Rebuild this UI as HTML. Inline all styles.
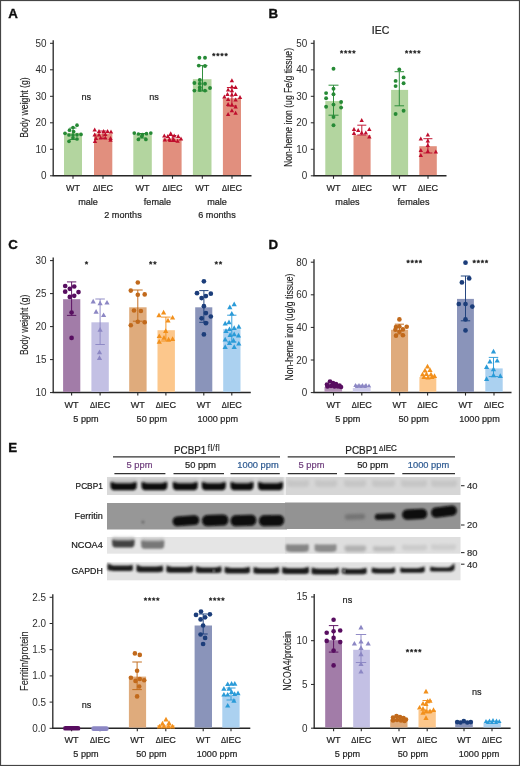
<!DOCTYPE html>
<html><head><meta charset="utf-8"><title>Figure</title>
<style>
html,body{margin:0;padding:0;background:#fff;}
body{width:520px;height:766px;overflow:hidden;}
svg{display:block;font-family:"Liberation Sans", sans-serif;}
</style></head><body>
<svg width="520" height="766" viewBox="0 0 520 766">
<defs>
<filter id="bl" x="-20%" y="-50%" width="140%" height="200%"><feGaussianBlur stdDeviation="0.9"/></filter>
<filter id="bl2" x="-20%" y="-50%" width="140%" height="200%"><feGaussianBlur stdDeviation="1.4"/></filter>
<filter id="bl3" x="-5%" y="-5%" width="110%" height="110%"><feGaussianBlur stdDeviation="0.35"/></filter>
</defs>
<rect x="0" y="0" width="520" height="766" fill="#fff"/>

<g filter="url(#bl3)">
<text x="8.3" y="17.8" font-size="13.3" text-anchor="start" fill="#111" font-weight="bold" stroke="#111" stroke-width="0.35">A</text>
<text x="268.5" y="17.8" font-size="13.3" text-anchor="start" fill="#111" font-weight="bold" stroke="#111" stroke-width="0.35">B</text>
<text x="8.3" y="248.8" font-size="13.3" text-anchor="start" fill="#111" font-weight="bold" stroke="#111" stroke-width="0.35">C</text>
<text x="268.5" y="248.8" font-size="13.3" text-anchor="start" fill="#111" font-weight="bold" stroke="#111" stroke-width="0.35">D</text>
<text x="8.3" y="452.2" font-size="13.3" text-anchor="start" fill="#111" font-weight="bold" stroke="#111" stroke-width="0.35">E</text>
</g>
<g filter="url(#bl3)">
<line x1="53.2" y1="40.30000000000001" x2="53.2" y2="175.8" stroke="#262626" stroke-width="1.3"/>
<line x1="52.6" y1="175.8" x2="251.5" y2="175.8" stroke="#262626" stroke-width="1.5"/>
<line x1="50.0" y1="43.30000000000001" x2="53.2" y2="43.30000000000001" stroke="#262626" stroke-width="1.0"/>
<text x="46.400000000000006" y="46.80000000000001" font-size="10.0" text-anchor="end" fill="#2e2e2e" font-weight="normal" textLength="11.01" lengthAdjust="spacingAndGlyphs" stroke-width="0">50</text>
<line x1="50.0" y1="69.80000000000001" x2="53.2" y2="69.80000000000001" stroke="#262626" stroke-width="1.0"/>
<text x="46.400000000000006" y="73.30000000000001" font-size="10.0" text-anchor="end" fill="#2e2e2e" font-weight="normal" textLength="11.01" lengthAdjust="spacingAndGlyphs" stroke-width="0">40</text>
<line x1="50.0" y1="96.30000000000001" x2="53.2" y2="96.30000000000001" stroke="#262626" stroke-width="1.0"/>
<text x="46.400000000000006" y="99.80000000000001" font-size="10.0" text-anchor="end" fill="#2e2e2e" font-weight="normal" textLength="11.01" lengthAdjust="spacingAndGlyphs" stroke-width="0">30</text>
<line x1="50.0" y1="122.80000000000001" x2="53.2" y2="122.80000000000001" stroke="#262626" stroke-width="1.0"/>
<text x="46.400000000000006" y="126.30000000000001" font-size="10.0" text-anchor="end" fill="#2e2e2e" font-weight="normal" textLength="11.01" lengthAdjust="spacingAndGlyphs" stroke-width="0">20</text>
<line x1="50.0" y1="149.3" x2="53.2" y2="149.3" stroke="#262626" stroke-width="1.0"/>
<text x="46.400000000000006" y="152.8" font-size="10.0" text-anchor="end" fill="#2e2e2e" font-weight="normal" textLength="11.01" lengthAdjust="spacingAndGlyphs" stroke-width="0">10</text>
<line x1="50.0" y1="175.8" x2="53.2" y2="175.8" stroke="#262626" stroke-width="1.0"/>
<text x="46.400000000000006" y="179.3" font-size="10.0" text-anchor="end" fill="#2e2e2e" font-weight="normal" textLength="5.51" lengthAdjust="spacingAndGlyphs" stroke-width="0">0</text>
<line x1="73" y1="175.8" x2="73" y2="178.8" stroke="#262626" stroke-width="1.1"/>
<line x1="103" y1="175.8" x2="103" y2="178.8" stroke="#262626" stroke-width="1.1"/>
<line x1="142.5" y1="175.8" x2="142.5" y2="178.8" stroke="#262626" stroke-width="1.1"/>
<line x1="172.5" y1="175.8" x2="172.5" y2="178.8" stroke="#262626" stroke-width="1.1"/>
<line x1="202.3" y1="175.8" x2="202.3" y2="178.8" stroke="#262626" stroke-width="1.1"/>
<line x1="232" y1="175.8" x2="232" y2="178.8" stroke="#262626" stroke-width="1.1"/>
<text transform="translate(24.4,107.5) rotate(-90)" x="0" y="0" dy="0.35em" font-size="10.6" text-anchor="middle" fill="#1f1f1f" stroke="#1f1f1f" stroke-width="0.12" textLength="60.5" lengthAdjust="spacingAndGlyphs">Body weight (g)</text>
<rect x="64" y="132.8" width="18" height="42.25" fill="#b3d59f"/>
<rect x="94" y="133.5" width="18.299999999999997" height="41.55000000000001" fill="#e18f7e"/>
<rect x="133.3" y="134.2" width="18.5" height="40.85000000000002" fill="#b3d59f"/>
<rect x="162.8" y="138.5" width="18.799999999999983" height="36.55000000000001" fill="#e18f7e"/>
<rect x="192.9" y="79.2" width="18.599999999999994" height="95.85000000000001" fill="#b3d59f"/>
<rect x="222.9" y="98.3" width="18.099999999999994" height="76.75000000000001" fill="#e18f7e"/>
<line x1="73" y1="128" x2="73" y2="139.5" stroke="#278a36" stroke-width="0.9"/>
<line x1="69.5" y1="128" x2="76.5" y2="128" stroke="#278a36" stroke-width="0.9"/>
<line x1="69.5" y1="139.5" x2="76.5" y2="139.5" stroke="#278a36" stroke-width="0.9"/>
<line x1="103" y1="131" x2="103" y2="138.5" stroke="#bf0f2d" stroke-width="0.9"/>
<line x1="99.5" y1="131" x2="106.5" y2="131" stroke="#bf0f2d" stroke-width="0.9"/>
<line x1="99.5" y1="138.5" x2="106.5" y2="138.5" stroke="#bf0f2d" stroke-width="0.9"/>
<line x1="142.5" y1="133.5" x2="142.5" y2="138" stroke="#278a36" stroke-width="1.0"/>
<line x1="138.5" y1="133.5" x2="146.5" y2="133.5" stroke="#278a36" stroke-width="1.0"/>
<line x1="138.5" y1="138" x2="146.5" y2="138" stroke="#278a36" stroke-width="1.0"/>
<line x1="172.3" y1="135.5" x2="172.3" y2="141.5" stroke="#bf0f2d" stroke-width="1.0"/>
<line x1="168.3" y1="135.5" x2="176.3" y2="135.5" stroke="#bf0f2d" stroke-width="1.0"/>
<line x1="168.3" y1="141.5" x2="176.3" y2="141.5" stroke="#bf0f2d" stroke-width="1.0"/>
<line x1="202.5" y1="65.6" x2="202.5" y2="91" stroke="#278a36" stroke-width="0.95"/>
<line x1="197.5" y1="65.6" x2="207.5" y2="65.6" stroke="#278a36" stroke-width="0.95"/>
<line x1="197.5" y1="91" x2="207.5" y2="91" stroke="#278a36" stroke-width="0.95"/>
<line x1="231.9" y1="87.5" x2="231.9" y2="106" stroke="#bf0f2d" stroke-width="0.95"/>
<line x1="226.9" y1="87.5" x2="236.9" y2="87.5" stroke="#bf0f2d" stroke-width="0.95"/>
<line x1="226.9" y1="106" x2="236.9" y2="106" stroke="#bf0f2d" stroke-width="0.95"/>
<circle cx="77.0" cy="125.2" r="1.85" fill="#278a36"/>
<circle cx="73.0" cy="127.5" r="1.85" fill="#278a36"/>
<circle cx="69.5" cy="130.2" r="1.85" fill="#278a36"/>
<circle cx="73.6" cy="131.5" r="1.85" fill="#278a36"/>
<circle cx="65.0" cy="133.3" r="1.85" fill="#278a36"/>
<circle cx="69.0" cy="135.0" r="1.85" fill="#278a36"/>
<circle cx="73.0" cy="135.0" r="1.85" fill="#278a36"/>
<circle cx="77.0" cy="134.8" r="1.85" fill="#278a36"/>
<circle cx="81.0" cy="134.4" r="1.85" fill="#278a36"/>
<circle cx="73.0" cy="137.9" r="1.85" fill="#278a36"/>
<circle cx="77.0" cy="139.0" r="1.85" fill="#278a36"/>
<circle cx="69.0" cy="141.3" r="1.85" fill="#278a36"/>
<path d="M94.7 127.4L96.9 131.4L92.5 131.4Z" fill="#bf0f2d"/>
<path d="M99.0 129.1L101.2 133.1L96.8 133.1Z" fill="#bf0f2d"/>
<path d="M103.6 129.1L105.8 133.1L101.4 133.1Z" fill="#bf0f2d"/>
<path d="M107.6 129.1L109.8 133.1L105.4 133.1Z" fill="#bf0f2d"/>
<path d="M111.0 129.6L113.2 133.6L108.8 133.6Z" fill="#bf0f2d"/>
<path d="M94.7 132.6L96.9 136.6L92.5 136.6Z" fill="#bf0f2d"/>
<path d="M99.0 132.6L101.2 136.6L96.8 136.6Z" fill="#bf0f2d"/>
<path d="M105.3 132.0L107.5 136.0L103.1 136.0Z" fill="#bf0f2d"/>
<path d="M100.7 135.5L102.9 139.5L98.5 139.5Z" fill="#bf0f2d"/>
<path d="M105.3 135.5L107.5 139.5L103.1 139.5Z" fill="#bf0f2d"/>
<path d="M96.0 136.1L98.2 140.1L93.8 140.1Z" fill="#bf0f2d"/>
<path d="M110.5 136.1L112.7 140.1L108.3 140.1Z" fill="#bf0f2d"/>
<path d="M95.0 138.9L97.2 142.9L92.8 142.9Z" fill="#bf0f2d"/>
<path d="M110.5 137.8L112.7 141.8L108.3 141.8Z" fill="#bf0f2d"/>
<circle cx="134.3" cy="133.1" r="1.85" fill="#278a36"/>
<circle cx="138.4" cy="134.0" r="1.85" fill="#278a36"/>
<circle cx="142.4" cy="134.5" r="1.85" fill="#278a36"/>
<circle cx="146.5" cy="133.7" r="1.85" fill="#278a36"/>
<circle cx="150.8" cy="133.1" r="1.85" fill="#278a36"/>
<circle cx="141.8" cy="136.3" r="1.85" fill="#278a36"/>
<circle cx="138.4" cy="139.4" r="1.85" fill="#278a36"/>
<circle cx="145.9" cy="139.4" r="1.85" fill="#278a36"/>
<path d="M164.3 133.6L166.5 137.6L162.1 137.6Z" fill="#bf0f2d"/>
<path d="M167.8 134.1L170.0 138.1L165.6 138.1Z" fill="#bf0f2d"/>
<path d="M170.7 131.3L172.9 135.3L168.5 135.3Z" fill="#bf0f2d"/>
<path d="M174.2 133.6L176.4 137.6L172.0 137.6Z" fill="#bf0f2d"/>
<path d="M178.2 134.1L180.4 138.1L176.0 138.1Z" fill="#bf0f2d"/>
<path d="M181.0 136.4L183.2 140.4L178.8 140.4Z" fill="#bf0f2d"/>
<path d="M164.9 137.6L167.1 141.6L162.7 141.6Z" fill="#bf0f2d"/>
<path d="M169.5 137.0L171.7 141.0L167.3 141.0Z" fill="#bf0f2d"/>
<path d="M173.6 137.0L175.8 141.0L171.4 141.0Z" fill="#bf0f2d"/>
<path d="M177.6 138.8L179.8 142.8L175.4 142.8Z" fill="#bf0f2d"/>
<circle cx="199.4" cy="57.8" r="1.95" fill="#278a36"/>
<circle cx="205.0" cy="57.8" r="1.95" fill="#278a36"/>
<circle cx="198.8" cy="65.6" r="1.95" fill="#278a36"/>
<circle cx="205.0" cy="66.0" r="1.95" fill="#278a36"/>
<circle cx="199.8" cy="80.0" r="1.95" fill="#278a36"/>
<circle cx="194.4" cy="83.0" r="1.95" fill="#278a36"/>
<circle cx="199.8" cy="83.8" r="1.95" fill="#278a36"/>
<circle cx="205.0" cy="83.8" r="1.95" fill="#278a36"/>
<circle cx="199.8" cy="87.5" r="1.95" fill="#278a36"/>
<circle cx="210.0" cy="88.0" r="1.95" fill="#278a36"/>
<circle cx="194.4" cy="90.6" r="1.95" fill="#278a36"/>
<circle cx="199.8" cy="90.0" r="1.95" fill="#278a36"/>
<circle cx="205.0" cy="90.6" r="1.95" fill="#278a36"/>
<path d="M231.9 78.2L234.1 82.2L229.7 82.2Z" fill="#bf0f2d"/>
<path d="M231.9 84.5L234.1 88.5L229.7 88.5Z" fill="#bf0f2d"/>
<path d="M235.6 85.1L237.8 89.1L233.4 89.1Z" fill="#bf0f2d"/>
<path d="M228.1 87.6L230.3 91.6L225.9 91.6Z" fill="#bf0f2d"/>
<path d="M231.9 88.2L234.1 92.2L229.7 92.2Z" fill="#bf0f2d"/>
<path d="M227.5 92.0L229.7 96.0L225.3 96.0Z" fill="#bf0f2d"/>
<path d="M231.9 92.6L234.1 96.6L229.7 96.6Z" fill="#bf0f2d"/>
<path d="M235.6 92.0L237.8 96.0L233.4 96.0Z" fill="#bf0f2d"/>
<path d="M224.4 94.5L226.6 98.5L222.2 98.5Z" fill="#bf0f2d"/>
<path d="M228.1 97.0L230.3 101.0L225.9 101.0Z" fill="#bf0f2d"/>
<path d="M235.6 97.6L237.8 101.6L233.4 101.6Z" fill="#bf0f2d"/>
<path d="M240.0 95.1L242.2 99.1L237.8 99.1Z" fill="#bf0f2d"/>
<path d="M228.1 102.0L230.3 106.0L225.9 106.0Z" fill="#bf0f2d"/>
<path d="M231.9 102.6L234.1 106.6L229.7 106.6Z" fill="#bf0f2d"/>
<path d="M235.6 104.5L237.8 108.5L233.4 108.5Z" fill="#bf0f2d"/>
<path d="M231.9 108.2L234.1 112.2L229.7 112.2Z" fill="#bf0f2d"/>
<path d="M228.1 112.0L230.3 116.0L225.9 116.0Z" fill="#bf0f2d"/>
<path d="M235.6 110.7L237.8 114.7L233.4 114.7Z" fill="#bf0f2d"/>
<text x="86.3" y="100.3" font-size="9.9" text-anchor="middle" fill="#1f1f1f" font-weight="normal" textLength="9.62" lengthAdjust="spacingAndGlyphs" stroke="#1f1f1f" stroke-width="0.22" >ns</text>
<text x="154" y="100.3" font-size="9.9" text-anchor="middle" fill="#1f1f1f" font-weight="normal" textLength="9.62" lengthAdjust="spacingAndGlyphs" stroke="#1f1f1f" stroke-width="0.22" >ns</text>
<polygon points="213.80,52.92 214.31,53.95 215.45,54.11 214.62,54.92 214.82,56.05 213.80,55.52 212.78,56.05 212.98,54.92 212.15,54.11 213.29,53.95" fill="#262626" stroke="#262626" stroke-width="0.5" stroke-linejoin="round"/>
<polygon points="217.90,52.92 218.41,53.95 219.55,54.11 218.72,54.92 218.92,56.05 217.90,55.52 216.88,56.05 217.08,54.92 216.25,54.11 217.39,53.95" fill="#262626" stroke="#262626" stroke-width="0.5" stroke-linejoin="round"/>
<polygon points="222.00,52.92 222.51,53.95 223.65,54.11 222.82,54.92 223.02,56.05 222.00,55.52 220.98,56.05 221.18,54.92 220.35,54.11 221.49,53.95" fill="#262626" stroke="#262626" stroke-width="0.5" stroke-linejoin="round"/>
<polygon points="226.10,52.92 226.61,53.95 227.75,54.11 226.92,54.92 227.12,56.05 226.10,55.52 225.08,56.05 225.28,54.92 224.45,54.11 225.59,53.95" fill="#262626" stroke="#262626" stroke-width="0.5" stroke-linejoin="round"/>
<text x="73" y="190.8" font-size="9.9" text-anchor="middle" fill="#1f1f1f" font-weight="normal" textLength="14.16" lengthAdjust="spacingAndGlyphs" stroke="#1f1f1f" stroke-width="0.22" >WT</text>
<text x="103" y="190.8" font-size="9.9" text-anchor="middle" fill="#1f1f1f" font-weight="normal" textLength="20.22" lengthAdjust="spacingAndGlyphs" stroke="#1f1f1f" stroke-width="0.22" ><tspan font-size="8.2">&#916;</tspan>IEC</text>
<text x="142.5" y="190.8" font-size="9.9" text-anchor="middle" fill="#1f1f1f" font-weight="normal" textLength="14.16" lengthAdjust="spacingAndGlyphs" stroke="#1f1f1f" stroke-width="0.22" >WT</text>
<text x="172.5" y="190.8" font-size="9.9" text-anchor="middle" fill="#1f1f1f" font-weight="normal" textLength="20.22" lengthAdjust="spacingAndGlyphs" stroke="#1f1f1f" stroke-width="0.22" ><tspan font-size="8.2">&#916;</tspan>IEC</text>
<text x="202.3" y="190.8" font-size="9.9" text-anchor="middle" fill="#1f1f1f" font-weight="normal" textLength="14.16" lengthAdjust="spacingAndGlyphs" stroke="#1f1f1f" stroke-width="0.22" >WT</text>
<text x="232" y="190.8" font-size="9.9" text-anchor="middle" fill="#1f1f1f" font-weight="normal" textLength="20.22" lengthAdjust="spacingAndGlyphs" stroke="#1f1f1f" stroke-width="0.22" ><tspan font-size="8.2">&#916;</tspan>IEC</text>
<text x="88" y="204.8" font-size="9.9" text-anchor="middle" fill="#1f1f1f" font-weight="normal" textLength="19.74" lengthAdjust="spacingAndGlyphs" stroke="#1f1f1f" stroke-width="0.22" >male</text>
<text x="157.5" y="204.8" font-size="9.9" text-anchor="middle" fill="#1f1f1f" font-weight="normal" textLength="27.34" lengthAdjust="spacingAndGlyphs" stroke="#1f1f1f" stroke-width="0.22" >female</text>
<text x="217" y="204.8" font-size="9.9" text-anchor="middle" fill="#1f1f1f" font-weight="normal" textLength="19.74" lengthAdjust="spacingAndGlyphs" stroke="#1f1f1f" stroke-width="0.22" >male</text>
<text x="123" y="218.3" font-size="9.9" text-anchor="middle" fill="#1f1f1f" font-weight="normal" textLength="37.46" lengthAdjust="spacingAndGlyphs" stroke="#1f1f1f" stroke-width="0.22" >2 months</text>
<text x="217" y="218.3" font-size="9.9" text-anchor="middle" fill="#1f1f1f" font-weight="normal" textLength="37.46" lengthAdjust="spacingAndGlyphs" stroke="#1f1f1f" stroke-width="0.22" >6 months</text>
<line x1="314" y1="40.30000000000001" x2="314" y2="175.8" stroke="#262626" stroke-width="1.3"/>
<line x1="313.4" y1="175.8" x2="446.5" y2="175.8" stroke="#262626" stroke-width="1.5"/>
<line x1="310.8" y1="43.30000000000001" x2="314" y2="43.30000000000001" stroke="#262626" stroke-width="1.0"/>
<text x="307.2" y="46.80000000000001" font-size="10.0" text-anchor="end" fill="#2e2e2e" font-weight="normal" textLength="11.01" lengthAdjust="spacingAndGlyphs" stroke-width="0">50</text>
<line x1="310.8" y1="69.80000000000001" x2="314" y2="69.80000000000001" stroke="#262626" stroke-width="1.0"/>
<text x="307.2" y="73.30000000000001" font-size="10.0" text-anchor="end" fill="#2e2e2e" font-weight="normal" textLength="11.01" lengthAdjust="spacingAndGlyphs" stroke-width="0">40</text>
<line x1="310.8" y1="96.30000000000001" x2="314" y2="96.30000000000001" stroke="#262626" stroke-width="1.0"/>
<text x="307.2" y="99.80000000000001" font-size="10.0" text-anchor="end" fill="#2e2e2e" font-weight="normal" textLength="11.01" lengthAdjust="spacingAndGlyphs" stroke-width="0">30</text>
<line x1="310.8" y1="122.80000000000001" x2="314" y2="122.80000000000001" stroke="#262626" stroke-width="1.0"/>
<text x="307.2" y="126.30000000000001" font-size="10.0" text-anchor="end" fill="#2e2e2e" font-weight="normal" textLength="11.01" lengthAdjust="spacingAndGlyphs" stroke-width="0">20</text>
<line x1="310.8" y1="149.3" x2="314" y2="149.3" stroke="#262626" stroke-width="1.0"/>
<text x="307.2" y="152.8" font-size="10.0" text-anchor="end" fill="#2e2e2e" font-weight="normal" textLength="11.01" lengthAdjust="spacingAndGlyphs" stroke-width="0">10</text>
<line x1="310.8" y1="175.8" x2="314" y2="175.8" stroke="#262626" stroke-width="1.0"/>
<text x="307.2" y="179.3" font-size="10.0" text-anchor="end" fill="#2e2e2e" font-weight="normal" textLength="5.51" lengthAdjust="spacingAndGlyphs" stroke-width="0">0</text>
<line x1="333.5" y1="175.8" x2="333.5" y2="178.8" stroke="#262626" stroke-width="1.1"/>
<line x1="362" y1="175.8" x2="362" y2="178.8" stroke="#262626" stroke-width="1.1"/>
<line x1="399.5" y1="175.8" x2="399.5" y2="178.8" stroke="#262626" stroke-width="1.1"/>
<line x1="428" y1="175.8" x2="428" y2="178.8" stroke="#262626" stroke-width="1.1"/>
<text transform="translate(288.5,107.5) rotate(-90)" x="0" y="0" dy="0.35em" font-size="10.6" text-anchor="middle" fill="#1f1f1f" stroke="#1f1f1f" stroke-width="0.12" textLength="119" lengthAdjust="spacingAndGlyphs">Non-heme iron (ug Fe/g tissue)</text>
<text x="380.5" y="33.5" font-size="10.5" text-anchor="middle" fill="#222" font-weight="normal" stroke="#222" stroke-width="0.22" >IEC</text>
<rect x="325.3" y="101.1" width="16.599999999999966" height="73.95000000000002" fill="#b3d59f"/>
<rect x="353.5" y="135.1" width="17.100000000000023" height="39.95000000000002" fill="#e18f7e"/>
<rect x="391.1" y="89.9" width="17.0" height="85.15" fill="#b3d59f"/>
<rect x="419.3" y="146.2" width="17.5" height="28.850000000000023" fill="#e18f7e"/>
<line x1="333.5" y1="85.2" x2="333.5" y2="115.2" stroke="#278a36" stroke-width="0.95"/>
<line x1="328.5" y1="85.2" x2="338.5" y2="85.2" stroke="#278a36" stroke-width="0.95"/>
<line x1="328.5" y1="115.2" x2="338.5" y2="115.2" stroke="#278a36" stroke-width="0.95"/>
<line x1="361.8" y1="125.2" x2="361.8" y2="135" stroke="#bf0f2d" stroke-width="0.95"/>
<line x1="357.3" y1="125.2" x2="366.3" y2="125.2" stroke="#bf0f2d" stroke-width="0.95"/>
<line x1="357.3" y1="135" x2="366.3" y2="135" stroke="#bf0f2d" stroke-width="0.95"/>
<line x1="399.3" y1="71.7" x2="399.3" y2="105.8" stroke="#278a36" stroke-width="0.95"/>
<line x1="394.55" y1="71.7" x2="404.05" y2="71.7" stroke="#278a36" stroke-width="0.95"/>
<line x1="394.55" y1="105.8" x2="404.05" y2="105.8" stroke="#278a36" stroke-width="0.95"/>
<line x1="427.9" y1="138.7" x2="427.9" y2="153" stroke="#bf0f2d" stroke-width="0.95"/>
<line x1="423.4" y1="138.7" x2="432.4" y2="138.7" stroke="#bf0f2d" stroke-width="0.95"/>
<line x1="423.4" y1="153" x2="432.4" y2="153" stroke="#bf0f2d" stroke-width="0.95"/>
<circle cx="333.5" cy="68.8" r="1.95" fill="#278a36"/>
<circle cx="333.5" cy="88.8" r="1.95" fill="#278a36"/>
<circle cx="326.1" cy="93.1" r="1.95" fill="#278a36"/>
<circle cx="333.5" cy="94.3" r="1.95" fill="#278a36"/>
<circle cx="326.1" cy="98.2" r="1.95" fill="#278a36"/>
<circle cx="341.1" cy="102.0" r="1.95" fill="#278a36"/>
<circle cx="333.5" cy="104.6" r="1.95" fill="#278a36"/>
<circle cx="326.1" cy="106.7" r="1.95" fill="#278a36"/>
<circle cx="341.1" cy="107.6" r="1.95" fill="#278a36"/>
<circle cx="333.5" cy="117.0" r="1.95" fill="#278a36"/>
<circle cx="333.5" cy="125.2" r="1.95" fill="#278a36"/>
<path d="M361.7 118.1L363.9 122.1L359.5 122.1Z" fill="#bf0f2d"/>
<path d="M354.0 126.9L356.2 130.9L351.8 130.9Z" fill="#bf0f2d"/>
<path d="M358.2 128.0L360.4 132.0L356.0 132.0Z" fill="#bf0f2d"/>
<path d="M361.7 130.4L363.9 134.4L359.5 134.4Z" fill="#bf0f2d"/>
<path d="M365.8 130.6L368.0 134.6L363.6 134.6Z" fill="#bf0f2d"/>
<path d="M369.3 126.9L371.5 130.9L367.1 130.9Z" fill="#bf0f2d"/>
<path d="M354.0 131.0L356.2 135.0L351.8 135.0Z" fill="#bf0f2d"/>
<path d="M369.3 134.5L371.5 138.5L367.1 138.5Z" fill="#bf0f2d"/>
<circle cx="399.3" cy="69.4" r="1.95" fill="#278a36"/>
<circle cx="403.6" cy="77.4" r="1.95" fill="#278a36"/>
<circle cx="395.6" cy="80.9" r="1.95" fill="#278a36"/>
<circle cx="403.6" cy="83.2" r="1.95" fill="#278a36"/>
<circle cx="395.6" cy="86.1" r="1.95" fill="#278a36"/>
<circle cx="403.6" cy="110.7" r="1.95" fill="#278a36"/>
<circle cx="395.6" cy="114.0" r="1.95" fill="#278a36"/>
<path d="M427.8 132.6L430.0 136.6L425.6 136.6Z" fill="#bf0f2d"/>
<path d="M420.8 136.4L423.0 140.4L418.6 140.4Z" fill="#bf0f2d"/>
<path d="M427.8 138.4L430.0 142.4L425.6 142.4Z" fill="#bf0f2d"/>
<path d="M427.8 143.0L430.0 147.0L425.6 147.0Z" fill="#bf0f2d"/>
<path d="M420.8 148.0L423.0 152.0L418.6 152.0Z" fill="#bf0f2d"/>
<path d="M427.8 149.1L430.0 153.1L425.6 153.1Z" fill="#bf0f2d"/>
<path d="M435.8 149.5L438.0 153.5L433.6 153.5Z" fill="#bf0f2d"/>
<path d="M420.8 153.0L423.0 157.0L418.6 157.0Z" fill="#bf0f2d"/>
<polygon points="341.60,50.22 342.11,51.25 343.25,51.41 342.42,52.22 342.62,53.35 341.60,52.82 340.58,53.35 340.78,52.22 339.95,51.41 341.09,51.25" fill="#262626" stroke="#262626" stroke-width="0.5" stroke-linejoin="round"/>
<polygon points="345.70,50.22 346.21,51.25 347.35,51.41 346.52,52.22 346.72,53.35 345.70,52.82 344.68,53.35 344.88,52.22 344.05,51.41 345.19,51.25" fill="#262626" stroke="#262626" stroke-width="0.5" stroke-linejoin="round"/>
<polygon points="349.80,50.22 350.31,51.25 351.45,51.41 350.62,52.22 350.82,53.35 349.80,52.82 348.78,53.35 348.98,52.22 348.15,51.41 349.29,51.25" fill="#262626" stroke="#262626" stroke-width="0.5" stroke-linejoin="round"/>
<polygon points="353.90,50.22 354.41,51.25 355.55,51.41 354.72,52.22 354.92,53.35 353.90,52.82 352.88,53.35 353.08,52.22 352.25,51.41 353.39,51.25" fill="#262626" stroke="#262626" stroke-width="0.5" stroke-linejoin="round"/>
<polygon points="406.60,50.22 407.11,51.25 408.25,51.41 407.42,52.22 407.62,53.35 406.60,52.82 405.58,53.35 405.78,52.22 404.95,51.41 406.09,51.25" fill="#262626" stroke="#262626" stroke-width="0.5" stroke-linejoin="round"/>
<polygon points="410.70,50.22 411.21,51.25 412.35,51.41 411.52,52.22 411.72,53.35 410.70,52.82 409.68,53.35 409.88,52.22 409.05,51.41 410.19,51.25" fill="#262626" stroke="#262626" stroke-width="0.5" stroke-linejoin="round"/>
<polygon points="414.80,50.22 415.31,51.25 416.45,51.41 415.62,52.22 415.82,53.35 414.80,52.82 413.78,53.35 413.98,52.22 413.15,51.41 414.29,51.25" fill="#262626" stroke="#262626" stroke-width="0.5" stroke-linejoin="round"/>
<polygon points="418.90,50.22 419.41,51.25 420.55,51.41 419.72,52.22 419.92,53.35 418.90,52.82 417.88,53.35 418.08,52.22 417.25,51.41 418.39,51.25" fill="#262626" stroke="#262626" stroke-width="0.5" stroke-linejoin="round"/>
<text x="333.5" y="190.8" font-size="9.9" text-anchor="middle" fill="#1f1f1f" font-weight="normal" textLength="14.16" lengthAdjust="spacingAndGlyphs" stroke="#1f1f1f" stroke-width="0.22" >WT</text>
<text x="362" y="190.8" font-size="9.9" text-anchor="middle" fill="#1f1f1f" font-weight="normal" textLength="20.22" lengthAdjust="spacingAndGlyphs" stroke="#1f1f1f" stroke-width="0.22" ><tspan font-size="8.2">&#916;</tspan>IEC</text>
<text x="399.5" y="190.8" font-size="9.9" text-anchor="middle" fill="#1f1f1f" font-weight="normal" textLength="14.16" lengthAdjust="spacingAndGlyphs" stroke="#1f1f1f" stroke-width="0.22" >WT</text>
<text x="428" y="190.8" font-size="9.9" text-anchor="middle" fill="#1f1f1f" font-weight="normal" textLength="20.22" lengthAdjust="spacingAndGlyphs" stroke="#1f1f1f" stroke-width="0.22" ><tspan font-size="8.2">&#916;</tspan>IEC</text>
<text x="347.5" y="205" font-size="9.9" text-anchor="middle" fill="#1f1f1f" font-weight="normal" textLength="24.3" lengthAdjust="spacingAndGlyphs" stroke="#1f1f1f" stroke-width="0.22" >males</text>
<text x="413.5" y="205" font-size="9.9" text-anchor="middle" fill="#1f1f1f" font-weight="normal" textLength="31.89" lengthAdjust="spacingAndGlyphs" stroke="#1f1f1f" stroke-width="0.22" >females</text>
<line x1="53.2" y1="257.6" x2="53.2" y2="392.6" stroke="#262626" stroke-width="1.3"/>
<line x1="52.6" y1="392.6" x2="250.8" y2="392.6" stroke="#262626" stroke-width="1.5"/>
<line x1="50.0" y1="260.6" x2="53.2" y2="260.6" stroke="#262626" stroke-width="1.0"/>
<text x="46.400000000000006" y="264.1" font-size="10.0" text-anchor="end" fill="#2e2e2e" font-weight="normal" textLength="11.01" lengthAdjust="spacingAndGlyphs" stroke-width="0">30</text>
<line x1="50.0" y1="293.6" x2="53.2" y2="293.6" stroke="#262626" stroke-width="1.0"/>
<text x="46.400000000000006" y="297.1" font-size="10.0" text-anchor="end" fill="#2e2e2e" font-weight="normal" textLength="11.01" lengthAdjust="spacingAndGlyphs" stroke-width="0">25</text>
<line x1="50.0" y1="326.6" x2="53.2" y2="326.6" stroke="#262626" stroke-width="1.0"/>
<text x="46.400000000000006" y="330.1" font-size="10.0" text-anchor="end" fill="#2e2e2e" font-weight="normal" textLength="11.01" lengthAdjust="spacingAndGlyphs" stroke-width="0">20</text>
<line x1="50.0" y1="359.6" x2="53.2" y2="359.6" stroke="#262626" stroke-width="1.0"/>
<text x="46.400000000000006" y="363.1" font-size="10.0" text-anchor="end" fill="#2e2e2e" font-weight="normal" textLength="11.01" lengthAdjust="spacingAndGlyphs" stroke-width="0">15</text>
<line x1="50.0" y1="392.6" x2="53.2" y2="392.6" stroke="#262626" stroke-width="1.0"/>
<text x="46.400000000000006" y="396.1" font-size="10.0" text-anchor="end" fill="#2e2e2e" font-weight="normal" textLength="11.01" lengthAdjust="spacingAndGlyphs" stroke-width="0">10</text>
<line x1="71.6" y1="392.6" x2="71.6" y2="395.6" stroke="#262626" stroke-width="1.1"/>
<line x1="100.1" y1="392.6" x2="100.1" y2="395.6" stroke="#262626" stroke-width="1.1"/>
<line x1="137.8" y1="392.6" x2="137.8" y2="395.6" stroke="#262626" stroke-width="1.1"/>
<line x1="165.9" y1="392.6" x2="165.9" y2="395.6" stroke="#262626" stroke-width="1.1"/>
<line x1="203.8" y1="392.6" x2="203.8" y2="395.6" stroke="#262626" stroke-width="1.1"/>
<line x1="231.8" y1="392.6" x2="231.8" y2="395.6" stroke="#262626" stroke-width="1.1"/>
<text transform="translate(24.2,324.8) rotate(-90)" x="0" y="0" dy="0.35em" font-size="10.6" text-anchor="middle" fill="#1f1f1f" stroke="#1f1f1f" stroke-width="0.12" textLength="60.5" lengthAdjust="spacingAndGlyphs">Body weight (g)</text>
<rect x="63.1" y="299.2" width="17.199999999999996" height="92.65000000000003" fill="#a27ba8"/>
<rect x="91.4" y="322.3" width="17.39999999999999" height="69.55000000000001" fill="#c3c0e4"/>
<rect x="129.2" y="307.3" width="17.400000000000006" height="84.55000000000001" fill="#dfab7b"/>
<rect x="157.5" y="330.2" width="17.400000000000006" height="61.650000000000034" fill="#fcc78c"/>
<rect x="195.2" y="307.3" width="17.100000000000023" height="84.55000000000001" fill="#8a94ba"/>
<rect x="223.2" y="329.2" width="17.30000000000001" height="62.650000000000034" fill="#abd1f0"/>
<line x1="71.6" y1="281.9" x2="71.6" y2="315.4" stroke="#581060" stroke-width="0.95"/>
<line x1="66.94999999999999" y1="281.9" x2="76.25" y2="281.9" stroke="#581060" stroke-width="0.95"/>
<line x1="66.94999999999999" y1="315.4" x2="76.25" y2="315.4" stroke="#581060" stroke-width="0.95"/>
<line x1="100.1" y1="299" x2="100.1" y2="344.5" stroke="#8c87c4" stroke-width="0.95"/>
<line x1="95.35" y1="299" x2="104.85" y2="299" stroke="#8c87c4" stroke-width="0.95"/>
<line x1="95.35" y1="344.5" x2="104.85" y2="344.5" stroke="#8c87c4" stroke-width="0.95"/>
<line x1="137.8" y1="290" x2="137.8" y2="321.2" stroke="#c1691a" stroke-width="0.95"/>
<line x1="132.9" y1="290" x2="142.70000000000002" y2="290" stroke="#c1691a" stroke-width="0.95"/>
<line x1="132.9" y1="321.2" x2="142.70000000000002" y2="321.2" stroke="#c1691a" stroke-width="0.95"/>
<line x1="165.9" y1="317.1" x2="165.9" y2="341" stroke="#f2901c" stroke-width="0.95"/>
<line x1="161.15" y1="317.1" x2="170.65" y2="317.1" stroke="#f2901c" stroke-width="0.95"/>
<line x1="161.15" y1="341" x2="170.65" y2="341" stroke="#f2901c" stroke-width="0.95"/>
<line x1="203.9" y1="290.6" x2="203.9" y2="322.3" stroke="#1b3e7a" stroke-width="0.95"/>
<line x1="199.3" y1="290.6" x2="208.5" y2="290.6" stroke="#1b3e7a" stroke-width="0.95"/>
<line x1="199.3" y1="322.3" x2="208.5" y2="322.3" stroke="#1b3e7a" stroke-width="0.95"/>
<line x1="231.8" y1="315.2" x2="231.8" y2="342" stroke="#2c9bd8" stroke-width="0.95"/>
<line x1="227.15" y1="315.2" x2="236.45000000000002" y2="315.2" stroke="#2c9bd8" stroke-width="0.95"/>
<line x1="227.15" y1="342" x2="236.45000000000002" y2="342" stroke="#2c9bd8" stroke-width="0.95"/>
<circle cx="65.2" cy="286.0" r="2.35" fill="#581060"/>
<circle cx="74.2" cy="286.5" r="2.35" fill="#581060"/>
<circle cx="69.8" cy="288.8" r="2.35" fill="#581060"/>
<circle cx="65.2" cy="291.7" r="2.35" fill="#581060"/>
<circle cx="78.5" cy="292.1" r="2.35" fill="#581060"/>
<circle cx="69.8" cy="296.9" r="2.35" fill="#581060"/>
<circle cx="74.2" cy="295.8" r="2.35" fill="#581060"/>
<circle cx="71.6" cy="312.5" r="2.35" fill="#581060"/>
<circle cx="71.6" cy="337.9" r="2.35" fill="#581060"/>
<path d="M93.2 298.7L95.8 303.4L90.6 303.4Z" fill="#8c87c4"/>
<path d="M100.1 300.5L102.7 305.2L97.5 305.2Z" fill="#8c87c4"/>
<path d="M107.0 299.9L109.6 304.6L104.4 304.6Z" fill="#8c87c4"/>
<path d="M96.1 309.1L98.7 313.8L93.5 313.8Z" fill="#8c87c4"/>
<path d="M103.6 312.4L106.2 317.1L101.0 317.1Z" fill="#8c87c4"/>
<path d="M100.1 327.0L102.7 331.7L97.5 331.7Z" fill="#8c87c4"/>
<path d="M99.5 349.5L102.1 354.2L96.9 354.2Z" fill="#8c87c4"/>
<path d="M99.5 355.3L102.1 360.0L96.9 360.0Z" fill="#8c87c4"/>
<circle cx="137.8" cy="282.5" r="2.3" fill="#c1691a"/>
<circle cx="130.8" cy="290.6" r="2.3" fill="#c1691a"/>
<circle cx="137.8" cy="294.8" r="2.3" fill="#c1691a"/>
<circle cx="144.7" cy="294.4" r="2.3" fill="#c1691a"/>
<circle cx="134.0" cy="310.5" r="2.3" fill="#c1691a"/>
<circle cx="140.9" cy="311.0" r="2.3" fill="#c1691a"/>
<circle cx="137.8" cy="321.7" r="2.3" fill="#c1691a"/>
<circle cx="144.7" cy="322.3" r="2.3" fill="#c1691a"/>
<circle cx="130.8" cy="325.2" r="2.3" fill="#c1691a"/>
<path d="M163.6 309.7L166.2 314.4L161.0 314.4Z" fill="#f2901c"/>
<path d="M159.0 312.6L161.6 317.3L156.4 317.3Z" fill="#f2901c"/>
<path d="M172.6 314.9L175.2 319.6L170.0 319.6Z" fill="#f2901c"/>
<path d="M168.0 317.8L170.6 322.5L165.4 322.5Z" fill="#f2901c"/>
<path d="M165.7 328.2L168.3 332.9L163.1 332.9Z" fill="#f2901c"/>
<path d="M159.3 333.4L161.9 338.1L156.7 338.1Z" fill="#f2901c"/>
<path d="M164.0 335.1L166.6 339.8L161.4 339.8Z" fill="#f2901c"/>
<path d="M168.6 336.8L171.2 341.5L166.0 341.5Z" fill="#f2901c"/>
<path d="M172.6 336.2L175.2 340.9L170.0 340.9Z" fill="#f2901c"/>
<path d="M159.3 339.1L161.9 343.8L156.7 343.8Z" fill="#f2901c"/>
<circle cx="203.9" cy="281.3" r="2.35" fill="#1b3e7a"/>
<circle cx="197.0" cy="293.2" r="2.35" fill="#1b3e7a"/>
<circle cx="205.9" cy="296.1" r="2.35" fill="#1b3e7a"/>
<circle cx="210.8" cy="293.7" r="2.35" fill="#1b3e7a"/>
<circle cx="201.6" cy="298.1" r="2.35" fill="#1b3e7a"/>
<circle cx="203.9" cy="306.2" r="2.35" fill="#1b3e7a"/>
<circle cx="205.9" cy="313.1" r="2.35" fill="#1b3e7a"/>
<circle cx="210.8" cy="316.5" r="2.35" fill="#1b3e7a"/>
<circle cx="201.6" cy="318.3" r="2.35" fill="#1b3e7a"/>
<circle cx="205.9" cy="323.2" r="2.35" fill="#1b3e7a"/>
<circle cx="203.9" cy="334.4" r="2.35" fill="#1b3e7a"/>
<path d="M234.2 301.6L236.8 306.3L231.6 306.3Z" fill="#2c9bd8"/>
<path d="M229.8 304.5L232.4 309.2L227.2 309.2Z" fill="#2c9bd8"/>
<path d="M231.8 310.9L234.4 315.6L229.2 315.6Z" fill="#2c9bd8"/>
<path d="M225.2 320.7L227.8 325.4L222.6 325.4Z" fill="#2c9bd8"/>
<path d="M229.0 319.5L231.6 324.2L226.4 324.2Z" fill="#2c9bd8"/>
<path d="M238.8 324.1L241.4 328.8L236.2 328.8Z" fill="#2c9bd8"/>
<path d="M229.5 326.4L232.1 331.1L226.9 331.1Z" fill="#2c9bd8"/>
<path d="M234.2 325.3L236.8 330.0L231.6 330.0Z" fill="#2c9bd8"/>
<path d="M230.1 332.2L232.7 336.9L227.5 336.9Z" fill="#2c9bd8"/>
<path d="M234.2 331.6L236.8 336.3L231.6 336.3Z" fill="#2c9bd8"/>
<path d="M225.2 336.8L227.8 341.5L222.6 341.5Z" fill="#2c9bd8"/>
<path d="M238.8 340.9L241.4 345.6L236.2 345.6Z" fill="#2c9bd8"/>
<path d="M225.2 344.3L227.8 349.0L222.6 349.0Z" fill="#2c9bd8"/>
<path d="M234.2 344.3L236.8 349.0L231.6 349.0Z" fill="#2c9bd8"/>
<path d="M229.5 340.3L232.1 345.0L226.9 345.0Z" fill="#2c9bd8"/>
<path d="M226.0 328.2L228.6 332.9L223.4 332.9Z" fill="#2c9bd8"/>
<path d="M238.5 332.7L241.1 337.4L235.9 337.4Z" fill="#2c9bd8"/>
<path d="M233.5 337.7L236.1 342.4L230.9 342.4Z" fill="#2c9bd8"/>
<polygon points="86.50,261.22 87.01,262.25 88.15,262.41 87.32,263.22 87.52,264.35 86.50,263.82 85.48,264.35 85.68,263.22 84.85,262.41 85.99,262.25" fill="#262626" stroke="#262626" stroke-width="0.5" stroke-linejoin="round"/>
<polygon points="150.70,261.22 151.21,262.25 152.35,262.41 151.52,263.22 151.72,264.35 150.70,263.82 149.68,264.35 149.88,263.22 149.05,262.41 150.19,262.25" fill="#262626" stroke="#262626" stroke-width="0.5" stroke-linejoin="round"/>
<polygon points="154.90,261.22 155.41,262.25 156.55,262.41 155.72,263.22 155.92,264.35 154.90,263.82 153.88,264.35 154.08,263.22 153.25,262.41 154.39,262.25" fill="#262626" stroke="#262626" stroke-width="0.5" stroke-linejoin="round"/>
<polygon points="216.30,261.22 216.81,262.25 217.95,262.41 217.12,263.22 217.32,264.35 216.30,263.82 215.28,264.35 215.48,263.22 214.65,262.41 215.79,262.25" fill="#262626" stroke="#262626" stroke-width="0.5" stroke-linejoin="round"/>
<polygon points="220.50,261.22 221.01,262.25 222.15,262.41 221.32,263.22 221.52,264.35 220.50,263.82 219.48,264.35 219.68,263.22 218.85,262.41 219.99,262.25" fill="#262626" stroke="#262626" stroke-width="0.5" stroke-linejoin="round"/>
<text x="71.6" y="407.8" font-size="9.9" text-anchor="middle" fill="#1f1f1f" font-weight="normal" textLength="14.16" lengthAdjust="spacingAndGlyphs" stroke="#1f1f1f" stroke-width="0.22" >WT</text>
<text x="100.1" y="407.8" font-size="9.9" text-anchor="middle" fill="#1f1f1f" font-weight="normal" textLength="20.22" lengthAdjust="spacingAndGlyphs" stroke="#1f1f1f" stroke-width="0.22" ><tspan font-size="8.2">&#916;</tspan>IEC</text>
<text x="137.8" y="407.8" font-size="9.9" text-anchor="middle" fill="#1f1f1f" font-weight="normal" textLength="14.16" lengthAdjust="spacingAndGlyphs" stroke="#1f1f1f" stroke-width="0.22" >WT</text>
<text x="165.9" y="407.8" font-size="9.9" text-anchor="middle" fill="#1f1f1f" font-weight="normal" textLength="20.22" lengthAdjust="spacingAndGlyphs" stroke="#1f1f1f" stroke-width="0.22" ><tspan font-size="8.2">&#916;</tspan>IEC</text>
<text x="203.8" y="407.8" font-size="9.9" text-anchor="middle" fill="#1f1f1f" font-weight="normal" textLength="14.16" lengthAdjust="spacingAndGlyphs" stroke="#1f1f1f" stroke-width="0.22" >WT</text>
<text x="231.8" y="407.8" font-size="9.9" text-anchor="middle" fill="#1f1f1f" font-weight="normal" textLength="20.22" lengthAdjust="spacingAndGlyphs" stroke="#1f1f1f" stroke-width="0.22" ><tspan font-size="8.2">&#916;</tspan>IEC</text>
<text x="86" y="421.6" font-size="9.9" text-anchor="middle" fill="#1f1f1f" font-weight="normal" textLength="25.31" lengthAdjust="spacingAndGlyphs" stroke="#1f1f1f" stroke-width="0.22" >5 ppm</text>
<text x="151.8" y="421.6" font-size="9.9" text-anchor="middle" fill="#1f1f1f" font-weight="normal" textLength="30.38" lengthAdjust="spacingAndGlyphs" stroke="#1f1f1f" stroke-width="0.22" >50 ppm</text>
<text x="217.8" y="421.6" font-size="9.9" text-anchor="middle" fill="#1f1f1f" font-weight="normal" textLength="40.51" lengthAdjust="spacingAndGlyphs" stroke="#1f1f1f" stroke-width="0.22" >1000 ppm</text>
<line x1="314" y1="259.20000000000005" x2="314" y2="392.6" stroke="#262626" stroke-width="1.3"/>
<line x1="313.4" y1="392.6" x2="511.5" y2="392.6" stroke="#262626" stroke-width="1.5"/>
<line x1="310.8" y1="262.20000000000005" x2="314" y2="262.20000000000005" stroke="#262626" stroke-width="1.0"/>
<text x="307.2" y="265.70000000000005" font-size="10.0" text-anchor="end" fill="#2e2e2e" font-weight="normal" textLength="11.01" lengthAdjust="spacingAndGlyphs" stroke-width="0">80</text>
<line x1="310.8" y1="294.8" x2="314" y2="294.8" stroke="#262626" stroke-width="1.0"/>
<text x="307.2" y="298.3" font-size="10.0" text-anchor="end" fill="#2e2e2e" font-weight="normal" textLength="11.01" lengthAdjust="spacingAndGlyphs" stroke-width="0">60</text>
<line x1="310.8" y1="327.40000000000003" x2="314" y2="327.40000000000003" stroke="#262626" stroke-width="1.0"/>
<text x="307.2" y="330.90000000000003" font-size="10.0" text-anchor="end" fill="#2e2e2e" font-weight="normal" textLength="11.01" lengthAdjust="spacingAndGlyphs" stroke-width="0">40</text>
<line x1="310.8" y1="360.0" x2="314" y2="360.0" stroke="#262626" stroke-width="1.0"/>
<text x="307.2" y="363.5" font-size="10.0" text-anchor="end" fill="#2e2e2e" font-weight="normal" textLength="11.01" lengthAdjust="spacingAndGlyphs" stroke-width="0">20</text>
<line x1="310.8" y1="392.6" x2="314" y2="392.6" stroke="#262626" stroke-width="1.0"/>
<text x="307.2" y="396.1" font-size="10.0" text-anchor="end" fill="#2e2e2e" font-weight="normal" textLength="5.51" lengthAdjust="spacingAndGlyphs" stroke-width="0">0</text>
<line x1="333.5" y1="392.6" x2="333.5" y2="395.6" stroke="#262626" stroke-width="1.1"/>
<line x1="361.8" y1="392.6" x2="361.8" y2="395.6" stroke="#262626" stroke-width="1.1"/>
<line x1="399.6" y1="392.6" x2="399.6" y2="395.6" stroke="#262626" stroke-width="1.1"/>
<line x1="427.6" y1="392.6" x2="427.6" y2="395.6" stroke="#262626" stroke-width="1.1"/>
<line x1="465.5" y1="392.6" x2="465.5" y2="395.6" stroke="#262626" stroke-width="1.1"/>
<line x1="494" y1="392.6" x2="494" y2="395.6" stroke="#262626" stroke-width="1.1"/>
<text transform="translate(288.8,327) rotate(-90)" x="0" y="0" dy="0.35em" font-size="10.6" text-anchor="middle" fill="#1f1f1f" stroke="#1f1f1f" stroke-width="0.12" textLength="107" lengthAdjust="spacingAndGlyphs">Non-heme iron (ug/g tissue)</text>
<rect x="324.5" y="387.0" width="17.600000000000023" height="4.850000000000023" fill="#b493b8"/>
<rect x="352.8" y="388.0" width="17.80000000000001" height="3.8500000000000227" fill="#cfcdeb"/>
<rect x="391" y="329.8" width="17.100000000000023" height="62.05000000000001" fill="#dfab7b"/>
<rect x="419.4" y="377.0" width="16.900000000000034" height="14.850000000000023" fill="#fcc78c"/>
<rect x="457" y="298.9" width="16.899999999999977" height="92.95000000000005" fill="#8a94ba"/>
<rect x="485.3" y="368.4" width="17.399999999999977" height="23.450000000000045" fill="#abd1f0"/>
<line x1="399.4" y1="324.2" x2="399.4" y2="334" stroke="#c1691a" stroke-width="0.95"/>
<line x1="394.79999999999995" y1="324.2" x2="404.0" y2="324.2" stroke="#c1691a" stroke-width="0.95"/>
<line x1="394.79999999999995" y1="334" x2="404.0" y2="334" stroke="#c1691a" stroke-width="0.95"/>
<line x1="465.5" y1="276" x2="465.5" y2="320.8" stroke="#1b3e7a" stroke-width="0.95"/>
<line x1="460.8" y1="276" x2="470.2" y2="276" stroke="#1b3e7a" stroke-width="0.95"/>
<line x1="460.8" y1="320.8" x2="470.2" y2="320.8" stroke="#1b3e7a" stroke-width="0.95"/>
<line x1="493.5" y1="357.4" x2="493.5" y2="376.6" stroke="#2c9bd8" stroke-width="0.95"/>
<line x1="488.75" y1="357.4" x2="498.25" y2="357.4" stroke="#2c9bd8" stroke-width="0.95"/>
<line x1="488.75" y1="376.6" x2="498.25" y2="376.6" stroke="#2c9bd8" stroke-width="0.95"/>
<circle cx="327.0" cy="384.5" r="2.35" fill="#581060"/>
<circle cx="330.0" cy="381.5" r="2.35" fill="#581060"/>
<circle cx="333.0" cy="383.0" r="2.35" fill="#581060"/>
<circle cx="336.0" cy="384.0" r="2.35" fill="#581060"/>
<circle cx="339.5" cy="385.5" r="2.35" fill="#581060"/>
<circle cx="327.5" cy="386.5" r="2.35" fill="#581060"/>
<circle cx="331.0" cy="386.0" r="2.35" fill="#581060"/>
<circle cx="334.5" cy="386.5" r="2.35" fill="#581060"/>
<circle cx="338.0" cy="386.5" r="2.35" fill="#581060"/>
<circle cx="341.0" cy="387.0" r="2.35" fill="#581060"/>
<path d="M355.5 383.1L357.7 387.1L353.3 387.1Z" fill="#8c87c4"/>
<path d="M359.0 383.1L361.2 387.1L356.8 387.1Z" fill="#8c87c4"/>
<path d="M362.5 383.1L364.7 387.1L360.3 387.1Z" fill="#8c87c4"/>
<path d="M366.0 383.1L368.2 387.1L363.8 387.1Z" fill="#8c87c4"/>
<path d="M369.0 383.6L371.2 387.6L366.8 387.6Z" fill="#8c87c4"/>
<path d="M357.0 384.1L359.2 388.1L354.8 388.1Z" fill="#8c87c4"/>
<path d="M361.0 384.1L363.2 388.1L358.8 388.1Z" fill="#8c87c4"/>
<path d="M365.0 384.1L367.2 388.1L362.8 388.1Z" fill="#8c87c4"/>
<circle cx="399.4" cy="319.4" r="2.3" fill="#c1691a"/>
<circle cx="396.0" cy="327.1" r="2.3" fill="#c1691a"/>
<circle cx="399.4" cy="326.5" r="2.3" fill="#c1691a"/>
<circle cx="406.7" cy="326.8" r="2.3" fill="#c1691a"/>
<circle cx="395.4" cy="329.8" r="2.3" fill="#c1691a"/>
<circle cx="402.9" cy="329.4" r="2.3" fill="#c1691a"/>
<circle cx="399.4" cy="331.7" r="2.3" fill="#c1691a"/>
<circle cx="396.0" cy="335.8" r="2.3" fill="#c1691a"/>
<circle cx="402.9" cy="335.2" r="2.3" fill="#c1691a"/>
<path d="M427.5 363.7L430.1 368.4L424.9 368.4Z" fill="#f2901c"/>
<path d="M425.0 367.7L427.6 372.4L422.4 372.4Z" fill="#f2901c"/>
<path d="M430.0 367.2L432.6 371.9L427.4 371.9Z" fill="#f2901c"/>
<path d="M422.5 371.7L425.1 376.4L419.9 376.4Z" fill="#f2901c"/>
<path d="M426.5 371.2L429.1 375.9L423.9 375.9Z" fill="#f2901c"/>
<path d="M431.0 371.7L433.6 376.4L428.4 376.4Z" fill="#f2901c"/>
<path d="M434.5 373.2L437.1 377.9L431.9 377.9Z" fill="#f2901c"/>
<path d="M424.0 374.2L426.6 378.9L421.4 378.9Z" fill="#f2901c"/>
<path d="M428.0 374.7L430.6 379.4L425.4 379.4Z" fill="#f2901c"/>
<path d="M432.0 374.2L434.6 378.9L429.4 378.9Z" fill="#f2901c"/>
<circle cx="465.5" cy="262.7" r="2.35" fill="#1b3e7a"/>
<circle cx="469.2" cy="278.4" r="2.35" fill="#1b3e7a"/>
<circle cx="461.9" cy="282.4" r="2.35" fill="#1b3e7a"/>
<circle cx="458.8" cy="304.0" r="2.35" fill="#1b3e7a"/>
<circle cx="465.5" cy="304.0" r="2.35" fill="#1b3e7a"/>
<circle cx="472.3" cy="306.6" r="2.35" fill="#1b3e7a"/>
<circle cx="465.5" cy="319.4" r="2.35" fill="#1b3e7a"/>
<circle cx="465.5" cy="330.4" r="2.35" fill="#1b3e7a"/>
<path d="M493.5 348.8L496.1 353.5L490.9 353.5Z" fill="#2c9bd8"/>
<path d="M489.9 358.7L492.5 363.4L487.3 363.4Z" fill="#2c9bd8"/>
<path d="M497.2 357.9L499.8 362.6L494.6 362.6Z" fill="#2c9bd8"/>
<path d="M486.6 364.2L489.2 368.9L484.0 368.9Z" fill="#2c9bd8"/>
<path d="M493.5 366.5L496.1 371.2L490.9 371.2Z" fill="#2c9bd8"/>
<path d="M486.6 376.2L489.2 380.9L484.0 380.9Z" fill="#2c9bd8"/>
<path d="M493.5 372.6L496.1 377.3L490.9 377.3Z" fill="#2c9bd8"/>
<path d="M500.3 373.3L502.9 378.0L497.7 378.0Z" fill="#2c9bd8"/>
<polygon points="408.10,259.82 408.61,260.85 409.75,261.01 408.92,261.82 409.12,262.95 408.10,262.42 407.08,262.95 407.28,261.82 406.45,261.01 407.59,260.85" fill="#262626" stroke="#262626" stroke-width="0.5" stroke-linejoin="round"/>
<polygon points="412.20,259.82 412.71,260.85 413.85,261.01 413.02,261.82 413.22,262.95 412.20,262.42 411.18,262.95 411.38,261.82 410.55,261.01 411.69,260.85" fill="#262626" stroke="#262626" stroke-width="0.5" stroke-linejoin="round"/>
<polygon points="416.30,259.82 416.81,260.85 417.95,261.01 417.12,261.82 417.32,262.95 416.30,262.42 415.28,262.95 415.48,261.82 414.65,261.01 415.79,260.85" fill="#262626" stroke="#262626" stroke-width="0.5" stroke-linejoin="round"/>
<polygon points="420.40,259.82 420.91,260.85 422.05,261.01 421.22,261.82 421.42,262.95 420.40,262.42 419.38,262.95 419.58,261.82 418.75,261.01 419.89,260.85" fill="#262626" stroke="#262626" stroke-width="0.5" stroke-linejoin="round"/>
<polygon points="474.20,259.82 474.71,260.85 475.85,261.01 475.02,261.82 475.22,262.95 474.20,262.42 473.18,262.95 473.38,261.82 472.55,261.01 473.69,260.85" fill="#262626" stroke="#262626" stroke-width="0.5" stroke-linejoin="round"/>
<polygon points="478.30,259.82 478.81,260.85 479.95,261.01 479.12,261.82 479.32,262.95 478.30,262.42 477.28,262.95 477.48,261.82 476.65,261.01 477.79,260.85" fill="#262626" stroke="#262626" stroke-width="0.5" stroke-linejoin="round"/>
<polygon points="482.40,259.82 482.91,260.85 484.05,261.01 483.22,261.82 483.42,262.95 482.40,262.42 481.38,262.95 481.58,261.82 480.75,261.01 481.89,260.85" fill="#262626" stroke="#262626" stroke-width="0.5" stroke-linejoin="round"/>
<polygon points="486.50,259.82 487.01,260.85 488.15,261.01 487.32,261.82 487.52,262.95 486.50,262.42 485.48,262.95 485.68,261.82 484.85,261.01 485.99,260.85" fill="#262626" stroke="#262626" stroke-width="0.5" stroke-linejoin="round"/>
<text x="333.5" y="407.8" font-size="9.9" text-anchor="middle" fill="#1f1f1f" font-weight="normal" textLength="14.16" lengthAdjust="spacingAndGlyphs" stroke="#1f1f1f" stroke-width="0.22" >WT</text>
<text x="361.8" y="407.8" font-size="9.9" text-anchor="middle" fill="#1f1f1f" font-weight="normal" textLength="20.22" lengthAdjust="spacingAndGlyphs" stroke="#1f1f1f" stroke-width="0.22" ><tspan font-size="8.2">&#916;</tspan>IEC</text>
<text x="399.6" y="407.8" font-size="9.9" text-anchor="middle" fill="#1f1f1f" font-weight="normal" textLength="14.16" lengthAdjust="spacingAndGlyphs" stroke="#1f1f1f" stroke-width="0.22" >WT</text>
<text x="427.6" y="407.8" font-size="9.9" text-anchor="middle" fill="#1f1f1f" font-weight="normal" textLength="20.22" lengthAdjust="spacingAndGlyphs" stroke="#1f1f1f" stroke-width="0.22" ><tspan font-size="8.2">&#916;</tspan>IEC</text>
<text x="465.5" y="407.8" font-size="9.9" text-anchor="middle" fill="#1f1f1f" font-weight="normal" textLength="14.16" lengthAdjust="spacingAndGlyphs" stroke="#1f1f1f" stroke-width="0.22" >WT</text>
<text x="494" y="407.8" font-size="9.9" text-anchor="middle" fill="#1f1f1f" font-weight="normal" textLength="20.22" lengthAdjust="spacingAndGlyphs" stroke="#1f1f1f" stroke-width="0.22" ><tspan font-size="8.2">&#916;</tspan>IEC</text>
<text x="347.8" y="421.6" font-size="9.9" text-anchor="middle" fill="#1f1f1f" font-weight="normal" textLength="25.31" lengthAdjust="spacingAndGlyphs" stroke="#1f1f1f" stroke-width="0.22" >5 ppm</text>
<text x="413.6" y="421.6" font-size="9.9" text-anchor="middle" fill="#1f1f1f" font-weight="normal" textLength="30.38" lengthAdjust="spacingAndGlyphs" stroke="#1f1f1f" stroke-width="0.22" >50 ppm</text>
<text x="479.5" y="421.6" font-size="9.9" text-anchor="middle" fill="#1f1f1f" font-weight="normal" textLength="40.51" lengthAdjust="spacingAndGlyphs" stroke="#1f1f1f" stroke-width="0.22" >1000 ppm</text>
</g>
<g stroke="#333" stroke-width="1.1" filter="url(#bl3)">
<line x1="113" y1="456.9" x2="280" y2="456.9"/>
<line x1="287.7" y1="456.9" x2="455" y2="456.9"/>
<line x1="114.4" y1="473.6" x2="165.4" y2="473.6"/>
<line x1="173.5" y1="473.6" x2="224" y2="473.6"/>
<line x1="230.5" y1="473.6" x2="279.8" y2="473.6"/>
<line x1="287.7" y1="473.6" x2="337" y2="473.6"/>
<line x1="344.6" y1="473.6" x2="394.6" y2="473.6"/>
<line x1="402.3" y1="473.6" x2="455" y2="473.6"/>
</g>
<g filter="url(#bl3)">
<text x="174.0" y="453.7" font-size="10.8" text-anchor="start" fill="#1e1e1e" font-weight="normal" textLength="32.2" lengthAdjust="spacingAndGlyphs" stroke="#1e1e1e" stroke-width="0.22" >PCBP1</text>
<text x="207.4" y="451.0" font-size="8.7" text-anchor="start" fill="#1e1e1e" font-weight="normal" textLength="12.6" lengthAdjust="spacingAndGlyphs" stroke-width="0" style="font-variant-ligatures:none">fl/fl</text>
<text x="345.3" y="453.7" font-size="10.8" text-anchor="start" fill="#1e1e1e" font-weight="normal" textLength="32.6" lengthAdjust="spacingAndGlyphs" stroke="#1e1e1e" stroke-width="0.22" >PCBP1</text>
<text x="379.1" y="450.7" font-size="8.7" text-anchor="start" fill="#1e1e1e" font-weight="normal" textLength="17.8" lengthAdjust="spacingAndGlyphs" stroke="#1e1e1e" stroke-width="0.22" ><tspan font-size="7.0">&#916;</tspan>IEC</text>
<text x="139.5" y="468.2" font-size="9.3" text-anchor="middle" fill="#70407e" font-weight="normal" stroke="#70407e" stroke-width="0.22" >5 ppm</text>
<text x="200.5" y="468.2" font-size="9.3" text-anchor="middle" fill="#222" font-weight="normal" stroke="#222" stroke-width="0.22" >50 ppm</text>
<text x="258" y="468.2" font-size="9.3" text-anchor="middle" fill="#2f5b92" font-weight="normal" stroke="#2f5b92" stroke-width="0.22" >1000 ppm</text>
<text x="311.5" y="468.2" font-size="9.3" text-anchor="middle" fill="#70407e" font-weight="normal" stroke="#70407e" stroke-width="0.22" >5 ppm</text>
<text x="372.7" y="468.2" font-size="9.3" text-anchor="middle" fill="#222" font-weight="normal" stroke="#222" stroke-width="0.22" >50 ppm</text>
<text x="428.5" y="468.2" font-size="9.3" text-anchor="middle" fill="#2f5b92" font-weight="normal" stroke="#2f5b92" stroke-width="0.22" >1000 ppm</text>
<text x="102.8" y="489.1" font-size="9.6" text-anchor="end" fill="#1a1a1a" font-weight="normal" textLength="27.2" lengthAdjust="spacingAndGlyphs" stroke="#1a1a1a" stroke-width="0.22" >PCBP1</text>
<text x="102.8" y="519" font-size="9.6" text-anchor="end" fill="#1a1a1a" font-weight="normal" textLength="28.2" lengthAdjust="spacingAndGlyphs" stroke="#1a1a1a" stroke-width="0.22" >Ferritin</text>
<text x="102.8" y="548.1" font-size="9.6" text-anchor="end" fill="#1a1a1a" font-weight="normal" textLength="31.6" lengthAdjust="spacingAndGlyphs" stroke="#1a1a1a" stroke-width="0.22" >NCOA4</text>
<text x="102.8" y="574.0" font-size="9.6" text-anchor="end" fill="#1a1a1a" font-weight="normal" textLength="31.3" lengthAdjust="spacingAndGlyphs" stroke="#1a1a1a" stroke-width="0.22" >GAPDH</text>
<line x1="461" y1="485.7" x2="464.5" y2="485.7" stroke="#333" stroke-width="1.1"/>
<text x="467" y="489.09999999999997" font-size="9.4" text-anchor="start" fill="#333" font-weight="normal" stroke="#333" stroke-width="0.22" >40</text>
<line x1="461" y1="525" x2="464.5" y2="525" stroke="#333" stroke-width="1.1"/>
<text x="467" y="528.4" font-size="9.4" text-anchor="start" fill="#333" font-weight="normal" stroke="#333" stroke-width="0.22" >20</text>
<line x1="461" y1="552.6" x2="464.5" y2="552.6" stroke="#333" stroke-width="1.1"/>
<text x="467" y="556.0" font-size="9.4" text-anchor="start" fill="#333" font-weight="normal" stroke="#333" stroke-width="0.22" >80</text>
<line x1="461" y1="564.2" x2="464.5" y2="564.2" stroke="#333" stroke-width="1.1"/>
<text x="467" y="567.6" font-size="9.4" text-anchor="start" fill="#333" font-weight="normal" stroke="#333" stroke-width="0.22" >40</text>
</g>
<g filter="url(#bl3)">
<rect x="107" y="477" width="180" height="18" fill="#d9d9d9"/>
<rect x="285" y="477" width="175.5" height="18" fill="#d6d6d6"/>
<rect x="107" y="503" width="180" height="26.5" fill="#979797"/>
<rect x="285" y="502.5" width="175.5" height="26.5" fill="#939393"/>
<rect x="107" y="537" width="180" height="16.7" fill="#e5e5e5"/>
<rect x="283.6" y="477" width="2.4" height="18" fill="#ececec"/>
<rect x="285" y="537" width="175.5" height="16.7" fill="#dedede"/>
<rect x="107" y="562.3" width="180" height="18" fill="#e2e2e2"/>
<rect x="285" y="562.3" width="175.5" height="18" fill="#e2e2e2"/>
</g>
<path d="M110.5 479.3 C111.5 478.5 113.5 479.5 116.5 479.5 L130.7 479.5 C133.7 479.5 135.7 478.5 136.7 479.3 L136.7 481.9 C136.7 484.5 133.7 484.5 130.7 484.5 L116.5 484.5 C113.5 484.5 110.5 484.5 110.5 481.9 Z" fill="#bdbdbd" opacity="1.0" filter="url(#bl2)"/>
<path d="M110.5 482.4 C111.5 481.3 113.5 483.3 116.5 483.3 L130.7 483.3 C133.7 483.3 135.7 481.3 136.7 482.4 L136.7 486.2 C136.7 490.3 133.7 490.3 130.7 490.3 L116.5 490.3 C113.5 490.3 110.5 490.3 110.5 486.2 Z" fill="#0d0d0d" opacity="1.0" filter="url(#bl)"/>
<path d="M141.5 479.3 C142.5 478.5 144.5 479.5 147.5 479.5 L161.3 479.5 C164.3 479.5 166.3 478.5 167.3 479.3 L167.3 481.9 C167.3 484.5 164.3 484.5 161.3 484.5 L147.5 484.5 C144.5 484.5 141.5 484.5 141.5 481.9 Z" fill="#bdbdbd" opacity="1.0" filter="url(#bl2)"/>
<path d="M141.5 482.4 C142.5 481.3 144.5 483.3 147.5 483.3 L161.3 483.3 C164.3 483.3 166.3 481.3 167.3 482.4 L167.3 486.2 C167.3 490.3 164.3 490.3 161.3 490.3 L147.5 490.3 C144.5 490.3 141.5 490.3 141.5 486.2 Z" fill="#0d0d0d" opacity="1.0" filter="url(#bl)"/>
<path d="M172.8 479.3 C173.8 478.5 175.8 479.5 178.8 479.5 L191.7 479.5 C194.7 479.5 196.7 478.5 197.7 479.3 L197.7 481.9 C197.7 484.5 194.7 484.5 191.7 484.5 L178.8 484.5 C175.8 484.5 172.8 484.5 172.8 481.9 Z" fill="#bdbdbd" opacity="1.0" filter="url(#bl2)"/>
<path d="M172.8 482.4 C173.8 481.3 175.8 483.3 178.8 483.3 L191.7 483.3 C194.7 483.3 196.7 481.3 197.7 482.4 L197.7 486.2 C197.7 490.3 194.7 490.3 191.7 490.3 L178.8 490.3 C175.8 490.3 172.8 490.3 172.8 486.2 Z" fill="#0d0d0d" opacity="1.0" filter="url(#bl)"/>
<path d="M201.8 479.3 C202.8 478.5 204.8 479.5 207.8 479.5 L219.8 479.5 C222.8 479.5 224.8 478.5 225.8 479.3 L225.8 481.9 C225.8 484.5 222.8 484.5 219.8 484.5 L207.8 484.5 C204.8 484.5 201.8 484.5 201.8 481.9 Z" fill="#bdbdbd" opacity="1.0" filter="url(#bl2)"/>
<path d="M201.8 482.4 C202.8 481.3 204.8 483.3 207.8 483.3 L219.8 483.3 C222.8 483.3 224.8 481.3 225.8 482.4 L225.8 486.2 C225.8 490.3 222.8 490.3 219.8 490.3 L207.8 490.3 C204.8 490.3 201.8 490.3 201.8 486.2 Z" fill="#0d0d0d" opacity="1.0" filter="url(#bl)"/>
<path d="M230.5 479.3 C231.5 478.5 233.5 479.5 236.5 479.5 L247.5 479.5 C250.5 479.5 252.5 478.5 253.5 479.3 L253.5 481.9 C253.5 484.5 250.5 484.5 247.5 484.5 L236.5 484.5 C233.5 484.5 230.5 484.5 230.5 481.9 Z" fill="#bdbdbd" opacity="1.0" filter="url(#bl2)"/>
<path d="M230.5 482.4 C231.5 481.3 233.5 483.3 236.5 483.3 L247.5 483.3 C250.5 483.3 252.5 481.3 253.5 482.4 L253.5 486.2 C253.5 490.3 250.5 490.3 247.5 490.3 L236.5 490.3 C233.5 490.3 230.5 490.3 230.5 486.2 Z" fill="#0d0d0d" opacity="1.0" filter="url(#bl)"/>
<path d="M258.0 479.3 C259.0 478.5 261.0 479.5 264.0 479.5 L277.0 479.5 C280.0 479.5 282.0 478.5 283.0 479.3 L283.0 481.9 C283.0 484.5 280.0 484.5 277.0 484.5 L264.0 484.5 C261.0 484.5 258.0 484.5 258.0 481.9 Z" fill="#bdbdbd" opacity="1.0" filter="url(#bl2)"/>
<path d="M258.0 482.4 C259.0 481.3 261.0 483.3 264.0 483.3 L277.0 483.3 C280.0 483.3 282.0 481.3 283.0 482.4 L283.0 486.2 C283.0 490.3 280.0 490.3 277.0 490.3 L264.0 490.3 C261.0 490.3 258.0 490.3 258.0 486.2 Z" fill="#0d0d0d" opacity="1.0" filter="url(#bl)"/>
<path d="M287.0 480.6 C288.0 479.5 290.0 480.5 293.0 480.5 L303.0 480.5 C306.0 480.5 308.0 479.5 309.0 480.6 L309.0 483.9 C309.0 487.0 306.0 487.0 303.0 487.0 L293.0 487.0 C290.0 487.0 287.0 487.0 287.0 483.9 Z" fill="#c6c6c6" opacity="1.0" filter="url(#bl2)"/>
<path d="M315.0 480.6 C316.0 479.5 318.0 480.5 321.0 480.5 L331.0 480.5 C334.0 480.5 336.0 479.5 337.0 480.6 L337.0 483.9 C337.0 487.0 334.0 487.0 331.0 487.0 L321.0 487.0 C318.0 487.0 315.0 487.0 315.0 483.9 Z" fill="#c6c6c6" opacity="1.0" filter="url(#bl2)"/>
<path d="M344.0 480.6 C345.0 479.5 347.0 480.5 350.0 480.5 L360.0 480.5 C363.0 480.5 365.0 479.5 366.0 480.6 L366.0 483.9 C366.0 487.0 363.0 487.0 360.0 487.0 L350.0 487.0 C347.0 487.0 344.0 487.0 344.0 483.9 Z" fill="#c6c6c6" opacity="1.0" filter="url(#bl2)"/>
<path d="M372.0 480.6 C373.0 479.5 375.0 480.5 378.0 480.5 L389.0 480.5 C392.0 480.5 394.0 479.5 395.0 480.6 L395.0 483.9 C395.0 487.0 392.0 487.0 389.0 487.0 L378.0 487.0 C375.0 487.0 372.0 487.0 372.0 483.9 Z" fill="#c6c6c6" opacity="1.0" filter="url(#bl2)"/>
<path d="M401.0 480.6 C402.0 479.5 404.0 480.5 407.0 480.5 L421.0 480.5 C424.0 480.5 426.0 479.5 427.0 480.6 L427.0 483.9 C427.0 487.0 424.0 487.0 421.0 487.0 L407.0 487.0 C404.0 487.0 401.0 487.0 401.0 483.9 Z" fill="#c6c6c6" opacity="1.0" filter="url(#bl2)"/>
<path d="M431.0 480.6 C432.0 479.5 434.0 480.5 437.0 480.5 L451.0 480.5 C454.0 480.5 456.0 479.5 457.0 480.6 L457.0 483.9 C457.0 487.0 454.0 487.0 451.0 487.0 L437.0 487.0 C434.0 487.0 431.0 487.0 431.0 483.9 Z" fill="#c6c6c6" opacity="1.0" filter="url(#bl2)"/>
<path d="M177.4 516.4 L194.5 515.2 C200.9 515.2 200.9 525.0 194.5 525.0 L177.4 526.2 C171.0 526.2 171.0 516.4 177.4 516.4 Z" fill="#080808" filter="url(#bl)"/>
<path d="M207.6 515.0 L222.9 514.4 C230.2 514.4 230.2 525.6 222.9 525.6 L207.6 526.2 C200.3 526.2 200.3 515.0 207.6 515.0 Z" fill="#080808" filter="url(#bl)"/>
<path d="M236.0 515.2 L251.0 514.8 C258.1 514.8 258.1 525.8 251.0 525.8 L236.0 526.2 C228.8 526.2 228.8 515.2 236.0 515.2 Z" fill="#080808" filter="url(#bl)"/>
<path d="M264.3 515.2 L278.9 514.9 C286.0 514.9 286.0 525.9 278.9 525.9 L264.3 526.2 C257.2 526.2 257.2 515.2 264.3 515.2 Z" fill="#080808" filter="url(#bl)"/>
<path d="M347.4 514.2 L362.6 513.7 C366.2 513.7 366.2 519.3 362.6 519.3 L347.4 519.8 C343.8 519.8 343.8 514.2 347.4 514.2 Z" fill="#737373" filter="url(#bl2)"/>
<path d="M377.7 513.8 L392.3 513.2 C396.3 513.2 396.3 519.4 392.3 519.4 L377.7 520.0 C373.7 520.0 373.7 513.8 377.7 513.8 Z" fill="#141414" filter="url(#bl)"/>
<path d="M407.1 509.5 L422.2 508.7 C428.9 508.7 428.9 519.0 422.2 519.0 L407.1 519.8 C400.5 519.8 400.5 509.5 407.1 509.5 Z" fill="#080808" filter="url(#bl)"/>
<path d="M436.1 507.5 L451.9 505.5 C458.5 505.5 458.5 515.8 451.9 515.8 L436.1 517.8 C429.5 517.8 429.5 507.5 436.1 507.5 Z" fill="#080808" filter="url(#bl)"/>
<path d="M112.2 537.8 C113.2 537.0 115.2 537.5 118.2 537.5 L128.5 537.5 C131.5 537.5 133.5 537.0 134.5 537.8 L134.5 540.4 C134.5 542.5 131.5 542.5 128.5 542.5 L118.2 542.5 C115.2 542.5 112.2 542.5 112.2 540.4 Z" fill="#b8b8b8" opacity="1.0" filter="url(#bl2)"/>
<path d="M112.2 540.0 C113.2 539.0 115.2 540.5 118.2 540.5 L128.5 540.5 C131.5 540.5 133.5 539.0 134.5 540.0 L134.5 544.0 C134.5 547.6 131.5 547.6 128.5 547.6 L118.2 547.6 C115.2 547.6 112.2 547.6 112.2 544.0 Z" fill="#424242" opacity="1.0" filter="url(#bl)"/>
<path d="M141.2 538.8 C142.2 538.0 144.2 538.5 147.2 538.5 L158.2 538.5 C161.2 538.5 163.2 538.0 164.2 538.8 L164.2 541.4 C164.2 543.5 161.2 543.5 158.2 543.5 L147.2 543.5 C144.2 543.5 141.2 543.5 141.2 541.4 Z" fill="#bcbcbc" opacity="1.0" filter="url(#bl2)"/>
<path d="M141.2 541.2 C142.2 540.2 144.2 541.2 147.2 541.2 L158.2 541.2 C161.2 541.2 163.2 540.2 164.2 541.2 L164.2 545.7 C164.2 548.8 161.2 548.8 158.2 548.8 L147.2 548.8 C144.2 548.8 141.2 548.8 141.2 545.7 Z" fill="#777" opacity="1.0" filter="url(#bl)"/>
<path d="M285.8 544.8 C286.8 543.7 288.8 544.5 291.8 544.5 L302.8 544.5 C305.8 544.5 307.8 543.7 308.8 544.8 L308.8 549.1 C308.8 552.0 305.8 552.0 302.8 552.0 L291.8 552.0 C288.8 552.0 285.8 552.0 285.8 549.1 Z" fill="#858585" opacity="1.0" filter="url(#bl)"/>
<path d="M314.6 544.8 C315.6 543.7 317.6 544.5 320.6 544.5 L330.5 544.5 C333.5 544.5 335.5 543.7 336.5 544.8 L336.5 549.1 C336.5 552.0 333.5 552.0 330.5 552.0 L320.6 552.0 C317.6 552.0 314.6 552.0 314.6 549.1 Z" fill="#8b8b8b" opacity="1.0" filter="url(#bl)"/>
<path d="M344.6 546.0 C345.6 545.0 347.6 545.5 350.6 545.5 L360.0 545.5 C363.0 545.5 365.0 545.0 366.0 546.0 L366.0 549.2 C366.0 551.8 363.0 551.8 360.0 551.8 L350.6 551.8 C347.6 551.8 344.6 551.8 344.6 549.2 Z" fill="#b0b0b0" opacity="1.0" filter="url(#bl2)"/>
<path d="M373.0 546.8 C374.0 546.0 376.0 546.5 379.0 546.5 L389.0 546.5 C392.0 546.5 394.0 546.0 395.0 546.8 L395.0 549.4 C395.0 551.5 392.0 551.5 389.0 551.5 L379.0 551.5 C376.0 551.5 373.0 551.5 373.0 549.4 Z" fill="#bbb" opacity="1.0" filter="url(#bl2)"/>
<path d="M402.0 545.4 C403.0 544.5 405.0 545.0 408.0 545.0 L421.0 545.0 C424.0 545.0 426.0 544.5 427.0 545.4 L427.0 548.2 C427.0 550.5 424.0 550.5 421.0 550.5 L408.0 550.5 C405.0 550.5 402.0 550.5 402.0 548.2 Z" fill="#cbcbcb" opacity="1.0" filter="url(#bl2)"/>
<path d="M431.0 544.9 C432.0 544.0 434.0 544.5 437.0 544.5 L450.0 544.5 C453.0 544.5 455.0 544.0 456.0 544.9 L456.0 547.7 C456.0 550.0 453.0 550.0 450.0 550.0 L437.0 550.0 C434.0 550.0 431.0 550.0 431.0 547.7 Z" fill="#cdcdcd" opacity="1.0" filter="url(#bl2)"/>
<path d="M107.7 563.6 C109.2 563.6 110.7 565.6 114.7 565.6 L125.7 565.6 C129.7 565.6 131.2 564.8 132.7 564.8 L133.0 569.4 C132.7 571.0 129.7 571.0 125.7 571.0 L114.7 571.0 C110.7 571.0 107.4 571.0 107.4 568.6 Z" fill="#1e1e1e" filter="url(#bl)"/>
<path d="M136.6 564.7 C138.1 564.7 139.6 566.5 143.6 566.5 L155.9 566.5 C159.9 566.5 161.4 565.5 162.9 565.5 L163.2 570.5 C162.9 572.2 159.9 572.2 155.9 572.2 L143.6 572.2 C139.6 572.2 136.3 572.2 136.3 569.9 Z" fill="#1e1e1e" filter="url(#bl)"/>
<path d="M166.5 565.4 C168.0 565.4 169.5 567.0 173.5 567.0 L186.0 567.0 C190.0 567.0 191.5 565.8 193.0 565.8 L193.3 571.0 C193.0 572.8 190.0 572.8 186.0 572.8 L173.5 572.8 C169.5 572.8 166.2 572.8 166.2 570.7 Z" fill="#1e1e1e" filter="url(#bl)"/>
<path d="M195.9 566.0 C197.4 566.0 198.9 567.4 202.9 567.4 L214.3 567.4 C218.3 567.4 219.8 566.2 221.3 566.2 L221.6 571.2 C221.3 573.0 218.3 573.0 214.3 573.0 L202.9 573.0 C198.9 573.0 195.6 573.0 195.6 571.0 Z" fill="#1e1e1e" filter="url(#bl)"/>
<path d="M224.8 566.8 C226.3 566.8 227.8 568.0 231.8 568.0 L242.8 568.0 C246.8 568.0 248.3 566.8 249.8 566.8 L250.1 571.8 C249.8 573.6 246.8 573.6 242.8 573.6 L231.8 573.6 C227.8 573.6 224.5 573.6 224.5 571.8 Z" fill="#1e1e1e" filter="url(#bl)"/>
<path d="M253.6 567.0 C255.1 567.0 256.6 568.2 260.6 568.2 L272.0 568.2 C276.0 568.2 277.5 567.0 279.0 567.0 L279.3 572.0 C279.0 573.8 276.0 573.8 272.0 573.8 L260.6 573.8 C256.6 573.8 253.3 573.8 253.3 572.0 Z" fill="#1e1e1e" filter="url(#bl)"/>
<path d="M282.3 567.0 C283.8 567.0 285.3 568.2 289.3 568.2 L301.8 568.2 C305.8 568.2 307.3 566.8 308.8 566.8 L309.1 572.0 C308.8 574.0 305.8 574.0 301.8 574.0 L289.3 574.0 C285.3 574.0 282.0 574.0 282.0 572.2 Z" fill="#1e1e1e" filter="url(#bl)"/>
<path d="M311.7 567.6 C313.2 567.6 314.7 568.8 318.7 568.8 L331.7 568.8 C335.7 568.8 337.2 567.4 338.7 567.4 L339.0 572.6 C338.7 574.6 335.7 574.6 331.7 574.6 L318.7 574.6 C314.7 574.6 311.4 574.6 311.4 572.8 Z" fill="#1e1e1e" filter="url(#bl)"/>
<path d="M342.0 568.0 C343.5 568.0 345.0 569.0 349.0 569.0 L359.5 569.0 C363.5 569.0 365.0 567.8 366.5 567.8 L366.8 572.4 C366.5 574.2 363.5 574.2 359.5 574.2 L349.0 574.2 C345.0 574.2 341.7 574.2 341.7 572.5 Z" fill="#1e1e1e" filter="url(#bl)"/>
<path d="M371.9 567.6 C373.4 567.6 374.9 568.6 378.9 568.6 L388.0 568.6 C392.0 568.6 393.5 567.2 395.0 567.2 L395.3 571.4 C395.0 573.4 392.0 573.4 388.0 573.4 L378.9 573.4 C374.9 573.4 371.6 573.4 371.6 571.7 Z" fill="#1e1e1e" filter="url(#bl)"/>
<path d="M400.4 567.4 C401.9 567.4 403.4 568.2 407.4 568.2 L417.6 568.2 C421.6 568.2 423.1 566.6 424.6 566.6 L424.9 570.7 C424.6 572.8 421.6 572.8 417.6 572.8 L407.4 572.8 C403.4 572.8 400.1 572.8 400.1 571.2 Z" fill="#1e1e1e" filter="url(#bl)"/>
<path d="M430.3 566.8 C431.8 566.8 433.3 567.4 437.3 567.4 L447.4 567.4 C451.4 567.4 452.9 563.4 454.4 563.4 L454.7 567.8 C454.4 571.6 451.4 571.6 447.4 571.6 L437.3 571.6 C433.3 571.6 430.0 571.6 430.0 570.2 Z" fill="#1e1e1e" filter="url(#bl)"/>
<circle cx="143" cy="522" r="1.6" fill="#6a6a6a" filter="url(#bl)"/>
<circle cx="213.8" cy="571.0" r="1.1" fill="#c8c8c8" filter="url(#bl)"/>
<circle cx="344.2" cy="571.0" r="1.2" fill="#c8c8c8" filter="url(#bl)"/>
<g filter="url(#bl3)">
<line x1="52.8" y1="594.3" x2="52.8" y2="728.3" stroke="#262626" stroke-width="1.3"/>
<line x1="52.199999999999996" y1="728.3" x2="250.3" y2="728.3" stroke="#262626" stroke-width="1.5"/>
<line x1="49.599999999999994" y1="597.3" x2="52.8" y2="597.3" stroke="#262626" stroke-width="1.0"/>
<text x="46.0" y="600.8" font-size="10.0" text-anchor="end" fill="#2e2e2e" font-weight="normal" textLength="13.76" lengthAdjust="spacingAndGlyphs" stroke-width="0">2.5</text>
<line x1="49.599999999999994" y1="623.5" x2="52.8" y2="623.5" stroke="#262626" stroke-width="1.0"/>
<text x="46.0" y="627.0" font-size="10.0" text-anchor="end" fill="#2e2e2e" font-weight="normal" textLength="13.76" lengthAdjust="spacingAndGlyphs" stroke-width="0">2.0</text>
<line x1="49.599999999999994" y1="649.6999999999999" x2="52.8" y2="649.6999999999999" stroke="#262626" stroke-width="1.0"/>
<text x="46.0" y="653.1999999999999" font-size="10.0" text-anchor="end" fill="#2e2e2e" font-weight="normal" textLength="13.76" lengthAdjust="spacingAndGlyphs" stroke-width="0">1.5</text>
<line x1="49.599999999999994" y1="675.9" x2="52.8" y2="675.9" stroke="#262626" stroke-width="1.0"/>
<text x="46.0" y="679.4" font-size="10.0" text-anchor="end" fill="#2e2e2e" font-weight="normal" textLength="13.76" lengthAdjust="spacingAndGlyphs" stroke-width="0">1.0</text>
<line x1="49.599999999999994" y1="702.0999999999999" x2="52.8" y2="702.0999999999999" stroke="#262626" stroke-width="1.0"/>
<text x="46.0" y="705.5999999999999" font-size="10.0" text-anchor="end" fill="#2e2e2e" font-weight="normal" textLength="13.76" lengthAdjust="spacingAndGlyphs" stroke-width="0">0.5</text>
<line x1="49.599999999999994" y1="728.3" x2="52.8" y2="728.3" stroke="#262626" stroke-width="1.0"/>
<text x="46.0" y="731.8" font-size="10.0" text-anchor="end" fill="#2e2e2e" font-weight="normal" textLength="13.76" lengthAdjust="spacingAndGlyphs" stroke-width="0">0.0</text>
<line x1="71.6" y1="728.3" x2="71.6" y2="731.3" stroke="#262626" stroke-width="1.1"/>
<line x1="100" y1="728.3" x2="100" y2="731.3" stroke="#262626" stroke-width="1.1"/>
<line x1="137.3" y1="728.3" x2="137.3" y2="731.3" stroke="#262626" stroke-width="1.1"/>
<line x1="165.8" y1="728.3" x2="165.8" y2="731.3" stroke="#262626" stroke-width="1.1"/>
<line x1="203.2" y1="728.3" x2="203.2" y2="731.3" stroke="#262626" stroke-width="1.1"/>
<line x1="231" y1="728.3" x2="231" y2="731.3" stroke="#262626" stroke-width="1.1"/>
<text transform="translate(24.3,661.2) rotate(-90)" x="0" y="0" dy="0.35em" font-size="10.6" text-anchor="middle" fill="#1f1f1f" stroke="#1f1f1f" stroke-width="0.12" textLength="59.5" lengthAdjust="spacingAndGlyphs">Ferritin/protein</text>
<rect x="128.9" y="676.6" width="17.19999999999999" height="50.94999999999993" fill="#dfab7b"/>
<rect x="157.3" y="725.0" width="17.19999999999999" height="2.5499999999999545" fill="#fcc78c"/>
<rect x="194.6" y="625.5" width="17.400000000000006" height="102.04999999999995" fill="#8a94ba"/>
<rect x="222.3" y="695.5" width="17.299999999999983" height="32.049999999999955" fill="#abd1f0"/>
<line x1="137.1" y1="662" x2="137.1" y2="689.6" stroke="#c1691a" stroke-width="0.95"/>
<line x1="132.29999999999998" y1="662" x2="141.9" y2="662" stroke="#c1691a" stroke-width="0.95"/>
<line x1="132.29999999999998" y1="689.6" x2="141.9" y2="689.6" stroke="#c1691a" stroke-width="0.95"/>
<line x1="203.2" y1="614" x2="203.2" y2="634" stroke="#1b3e7a" stroke-width="0.95"/>
<line x1="198.7" y1="614" x2="207.7" y2="614" stroke="#1b3e7a" stroke-width="0.95"/>
<line x1="198.7" y1="634" x2="207.7" y2="634" stroke="#1b3e7a" stroke-width="0.95"/>
<line x1="231" y1="688" x2="231" y2="700" stroke="#2c9bd8" stroke-width="0.95"/>
<line x1="226.5" y1="688" x2="235.5" y2="688" stroke="#2c9bd8" stroke-width="0.95"/>
<line x1="226.5" y1="700" x2="235.5" y2="700" stroke="#2c9bd8" stroke-width="0.95"/>
<rect x="63.1" y="726" width="17.3" height="4.6" rx="2.2" fill="#581060"/>
<rect x="91.3" y="726.3" width="17.4" height="4.6" rx="2.2" fill="#8c87c4"/>
<circle cx="134.9" cy="653.4" r="2.3" fill="#c1691a"/>
<circle cx="139.8" cy="654.9" r="2.3" fill="#c1691a"/>
<circle cx="137.1" cy="670.7" r="2.3" fill="#c1691a"/>
<circle cx="130.9" cy="677.8" r="2.3" fill="#c1691a"/>
<circle cx="135.5" cy="680.9" r="2.3" fill="#c1691a"/>
<circle cx="139.8" cy="679.0" r="2.3" fill="#c1691a"/>
<circle cx="144.2" cy="680.3" r="2.3" fill="#c1691a"/>
<circle cx="139.2" cy="686.5" r="2.3" fill="#c1691a"/>
<circle cx="137.1" cy="696.4" r="2.3" fill="#c1691a"/>
<path d="M166.0 716.7L168.6 721.4L163.4 721.4Z" fill="#f2901c"/>
<path d="M162.5 720.7L165.1 725.4L159.9 725.4Z" fill="#f2901c"/>
<path d="M169.0 720.2L171.6 724.9L166.4 724.9Z" fill="#f2901c"/>
<path d="M159.5 723.7L162.1 728.4L156.9 728.4Z" fill="#f2901c"/>
<path d="M164.0 723.7L166.6 728.4L161.4 728.4Z" fill="#f2901c"/>
<path d="M168.5 723.7L171.1 728.4L165.9 728.4Z" fill="#f2901c"/>
<path d="M172.5 723.7L175.1 728.4L169.9 728.4Z" fill="#f2901c"/>
<circle cx="201.0" cy="611.6" r="2.35" fill="#1b3e7a"/>
<circle cx="196.0" cy="614.9" r="2.35" fill="#1b3e7a"/>
<circle cx="209.9" cy="614.3" r="2.35" fill="#1b3e7a"/>
<circle cx="205.1" cy="617.3" r="2.35" fill="#1b3e7a"/>
<circle cx="200.6" cy="619.4" r="2.35" fill="#1b3e7a"/>
<circle cx="203.1" cy="625.5" r="2.35" fill="#1b3e7a"/>
<circle cx="200.6" cy="634.5" r="2.35" fill="#1b3e7a"/>
<circle cx="205.1" cy="637.9" r="2.35" fill="#1b3e7a"/>
<circle cx="203.1" cy="644.0" r="2.35" fill="#1b3e7a"/>
<path d="M227.7 681.4L230.3 686.1L225.1 686.1Z" fill="#2c9bd8"/>
<path d="M231.6 681.0L234.2 685.7L229.0 685.7Z" fill="#2c9bd8"/>
<path d="M234.8 681.0L237.4 685.7L232.2 685.7Z" fill="#2c9bd8"/>
<path d="M223.9 686.0L226.5 690.7L221.3 690.7Z" fill="#2c9bd8"/>
<path d="M229.1 686.0L231.7 690.7L226.5 690.7Z" fill="#2c9bd8"/>
<path d="M231.6 689.2L234.2 693.9L229.0 693.9Z" fill="#2c9bd8"/>
<path d="M223.9 691.9L226.5 696.6L221.3 696.6Z" fill="#2c9bd8"/>
<path d="M227.7 691.9L230.3 696.6L225.1 696.6Z" fill="#2c9bd8"/>
<path d="M234.6 691.2L237.2 695.9L232.0 695.9Z" fill="#2c9bd8"/>
<path d="M238.0 690.6L240.6 695.3L235.4 695.3Z" fill="#2c9bd8"/>
<path d="M233.9 698.1L236.5 702.8L231.3 702.8Z" fill="#2c9bd8"/>
<path d="M227.7 702.9L230.3 707.6L225.1 707.6Z" fill="#2c9bd8"/>
<text x="86.5" y="708.4" font-size="9.9" text-anchor="middle" fill="#1f1f1f" font-weight="normal" textLength="9.62" lengthAdjust="spacingAndGlyphs" stroke="#1f1f1f" stroke-width="0.22" >ns</text>
<polygon points="145.50,597.42 146.01,598.45 147.15,598.61 146.32,599.42 146.52,600.55 145.50,600.02 144.48,600.55 144.68,599.42 143.85,598.61 144.99,598.45" fill="#262626" stroke="#262626" stroke-width="0.5" stroke-linejoin="round"/>
<polygon points="149.60,597.42 150.11,598.45 151.25,598.61 150.42,599.42 150.62,600.55 149.60,600.02 148.58,600.55 148.78,599.42 147.95,598.61 149.09,598.45" fill="#262626" stroke="#262626" stroke-width="0.5" stroke-linejoin="round"/>
<polygon points="153.70,597.42 154.21,598.45 155.35,598.61 154.52,599.42 154.72,600.55 153.70,600.02 152.68,600.55 152.88,599.42 152.05,598.61 153.19,598.45" fill="#262626" stroke="#262626" stroke-width="0.5" stroke-linejoin="round"/>
<polygon points="157.80,597.42 158.31,598.45 159.45,598.61 158.62,599.42 158.82,600.55 157.80,600.02 156.78,600.55 156.98,599.42 156.15,598.61 157.29,598.45" fill="#262626" stroke="#262626" stroke-width="0.5" stroke-linejoin="round"/>
<polygon points="210.60,597.42 211.11,598.45 212.25,598.61 211.42,599.42 211.62,600.55 210.60,600.02 209.58,600.55 209.78,599.42 208.95,598.61 210.09,598.45" fill="#262626" stroke="#262626" stroke-width="0.5" stroke-linejoin="round"/>
<polygon points="214.70,597.42 215.21,598.45 216.35,598.61 215.52,599.42 215.72,600.55 214.70,600.02 213.68,600.55 213.88,599.42 213.05,598.61 214.19,598.45" fill="#262626" stroke="#262626" stroke-width="0.5" stroke-linejoin="round"/>
<polygon points="218.80,597.42 219.31,598.45 220.45,598.61 219.62,599.42 219.82,600.55 218.80,600.02 217.78,600.55 217.98,599.42 217.15,598.61 218.29,598.45" fill="#262626" stroke="#262626" stroke-width="0.5" stroke-linejoin="round"/>
<polygon points="222.90,597.42 223.41,598.45 224.55,598.61 223.72,599.42 223.92,600.55 222.90,600.02 221.88,600.55 222.08,599.42 221.25,598.61 222.39,598.45" fill="#262626" stroke="#262626" stroke-width="0.5" stroke-linejoin="round"/>
<text x="71.6" y="743.3" font-size="9.9" text-anchor="middle" fill="#1f1f1f" font-weight="normal" textLength="14.16" lengthAdjust="spacingAndGlyphs" stroke="#1f1f1f" stroke-width="0.22" >WT</text>
<text x="100" y="743.3" font-size="9.9" text-anchor="middle" fill="#1f1f1f" font-weight="normal" textLength="20.22" lengthAdjust="spacingAndGlyphs" stroke="#1f1f1f" stroke-width="0.22" ><tspan font-size="8.2">&#916;</tspan>IEC</text>
<text x="137.3" y="743.3" font-size="9.9" text-anchor="middle" fill="#1f1f1f" font-weight="normal" textLength="14.16" lengthAdjust="spacingAndGlyphs" stroke="#1f1f1f" stroke-width="0.22" >WT</text>
<text x="165.8" y="743.3" font-size="9.9" text-anchor="middle" fill="#1f1f1f" font-weight="normal" textLength="20.22" lengthAdjust="spacingAndGlyphs" stroke="#1f1f1f" stroke-width="0.22" ><tspan font-size="8.2">&#916;</tspan>IEC</text>
<text x="203.2" y="743.3" font-size="9.9" text-anchor="middle" fill="#1f1f1f" font-weight="normal" textLength="14.16" lengthAdjust="spacingAndGlyphs" stroke="#1f1f1f" stroke-width="0.22" >WT</text>
<text x="231" y="743.3" font-size="9.9" text-anchor="middle" fill="#1f1f1f" font-weight="normal" textLength="20.22" lengthAdjust="spacingAndGlyphs" stroke="#1f1f1f" stroke-width="0.22" ><tspan font-size="8.2">&#916;</tspan>IEC</text>
<text x="86" y="757" font-size="9.9" text-anchor="middle" fill="#1f1f1f" font-weight="normal" textLength="25.31" lengthAdjust="spacingAndGlyphs" stroke="#1f1f1f" stroke-width="0.22" >5 ppm</text>
<text x="151.5" y="757" font-size="9.9" text-anchor="middle" fill="#1f1f1f" font-weight="normal" textLength="30.38" lengthAdjust="spacingAndGlyphs" stroke="#1f1f1f" stroke-width="0.22" >50 ppm</text>
<text x="217" y="757" font-size="9.9" text-anchor="middle" fill="#1f1f1f" font-weight="normal" textLength="40.51" lengthAdjust="spacingAndGlyphs" stroke="#1f1f1f" stroke-width="0.22" >1000 ppm</text>
<line x1="314.2" y1="593.95" x2="314.2" y2="728.2" stroke="#262626" stroke-width="1.3"/>
<line x1="313.59999999999997" y1="728.2" x2="510.6" y2="728.2" stroke="#262626" stroke-width="1.5"/>
<line x1="311.0" y1="596.95" x2="314.2" y2="596.95" stroke="#262626" stroke-width="1.0"/>
<text x="307.4" y="600.45" font-size="10.0" text-anchor="end" fill="#2e2e2e" font-weight="normal" textLength="11.01" lengthAdjust="spacingAndGlyphs" stroke-width="0">15</text>
<line x1="311.0" y1="640.7" x2="314.2" y2="640.7" stroke="#262626" stroke-width="1.0"/>
<text x="307.4" y="644.2" font-size="10.0" text-anchor="end" fill="#2e2e2e" font-weight="normal" textLength="11.01" lengthAdjust="spacingAndGlyphs" stroke-width="0">10</text>
<line x1="311.0" y1="684.45" x2="314.2" y2="684.45" stroke="#262626" stroke-width="1.0"/>
<text x="307.4" y="687.95" font-size="10.0" text-anchor="end" fill="#2e2e2e" font-weight="normal" textLength="5.51" lengthAdjust="spacingAndGlyphs" stroke-width="0">5</text>
<line x1="311.0" y1="728.2" x2="314.2" y2="728.2" stroke="#262626" stroke-width="1.0"/>
<text x="307.4" y="731.7" font-size="10.0" text-anchor="end" fill="#2e2e2e" font-weight="normal" textLength="5.51" lengthAdjust="spacingAndGlyphs" stroke-width="0">0</text>
<line x1="333.6" y1="728.2" x2="333.6" y2="731.2" stroke="#262626" stroke-width="1.1"/>
<line x1="361.3" y1="728.2" x2="361.3" y2="731.2" stroke="#262626" stroke-width="1.1"/>
<line x1="399" y1="728.2" x2="399" y2="731.2" stroke="#262626" stroke-width="1.1"/>
<line x1="427.2" y1="728.2" x2="427.2" y2="731.2" stroke="#262626" stroke-width="1.1"/>
<line x1="464" y1="728.2" x2="464" y2="731.2" stroke="#262626" stroke-width="1.1"/>
<line x1="492" y1="728.2" x2="492" y2="731.2" stroke="#262626" stroke-width="1.1"/>
<text transform="translate(287.7,660.9) rotate(-90)" x="0" y="0" dy="0.35em" font-size="10.6" text-anchor="middle" fill="#1f1f1f" stroke="#1f1f1f" stroke-width="0.12" textLength="59.8" lengthAdjust="spacingAndGlyphs">NCOA4/protein</text>
<rect x="325.2" y="640.2" width="16.80000000000001" height="87.25" fill="#a27ba8"/>
<rect x="353.2" y="649.8" width="16.69999999999999" height="77.65000000000009" fill="#c3c0e4"/>
<rect x="390.2" y="719.2" width="17.30000000000001" height="8.25" fill="#dfab7b"/>
<rect x="418.5" y="710.0" width="17.30000000000001" height="17.450000000000045" fill="#fcc78c"/>
<rect x="455.2" y="722.3" width="17.600000000000023" height="5.150000000000091" fill="#8a94ba"/>
<rect x="483.5" y="722.8" width="17.30000000000001" height="4.650000000000091" fill="#abd1f0"/>
<line x1="333.6" y1="625.6" x2="333.6" y2="652.1" stroke="#581060" stroke-width="0.95"/>
<line x1="328.85" y1="625.6" x2="338.35" y2="625.6" stroke="#581060" stroke-width="0.95"/>
<line x1="328.85" y1="652.1" x2="338.35" y2="652.1" stroke="#581060" stroke-width="0.95"/>
<line x1="361" y1="634.5" x2="361" y2="662.5" stroke="#8c87c4" stroke-width="0.95"/>
<line x1="355.8" y1="634.5" x2="366.2" y2="634.5" stroke="#8c87c4" stroke-width="0.95"/>
<line x1="355.8" y1="662.5" x2="366.2" y2="662.5" stroke="#8c87c4" stroke-width="0.95"/>
<line x1="427" y1="700.5" x2="427" y2="713" stroke="#f2901c" stroke-width="0.95"/>
<line x1="422.5" y1="700.5" x2="431.5" y2="700.5" stroke="#f2901c" stroke-width="0.95"/>
<line x1="422.5" y1="713" x2="431.5" y2="713" stroke="#f2901c" stroke-width="0.95"/>
<circle cx="333.6" cy="619.8" r="2.3" fill="#581060"/>
<circle cx="326.7" cy="632.8" r="2.3" fill="#581060"/>
<circle cx="333.6" cy="631.3" r="2.3" fill="#581060"/>
<circle cx="340.2" cy="630.5" r="2.3" fill="#581060"/>
<circle cx="333.6" cy="637.9" r="2.3" fill="#581060"/>
<circle cx="326.7" cy="640.9" r="2.3" fill="#581060"/>
<circle cx="340.2" cy="642.1" r="2.3" fill="#581060"/>
<circle cx="333.6" cy="650.6" r="2.3" fill="#581060"/>
<circle cx="333.6" cy="665.4" r="2.3" fill="#581060"/>
<path d="M361.0 624.7L363.6 629.4L358.4 629.4Z" fill="#8c87c4"/>
<path d="M361.0 638.9L363.6 643.6L358.4 643.6Z" fill="#8c87c4"/>
<path d="M354.4 640.9L357.0 645.6L351.8 645.6Z" fill="#8c87c4"/>
<path d="M368.2 640.9L370.8 645.6L365.6 645.6Z" fill="#8c87c4"/>
<path d="M361.0 645.3L363.6 650.0L358.4 650.0Z" fill="#8c87c4"/>
<path d="M361.0 651.6L363.6 656.3L358.4 656.3Z" fill="#8c87c4"/>
<path d="M361.0 661.4L363.6 666.1L358.4 666.1Z" fill="#8c87c4"/>
<path d="M361.0 668.9L363.6 673.6L358.4 673.6Z" fill="#8c87c4"/>
<circle cx="393.0" cy="717.5" r="2.3" fill="#c1691a"/>
<circle cx="396.5" cy="716.0" r="2.3" fill="#c1691a"/>
<circle cx="400.0" cy="717.0" r="2.3" fill="#c1691a"/>
<circle cx="403.5" cy="718.0" r="2.3" fill="#c1691a"/>
<circle cx="406.0" cy="719.5" r="2.3" fill="#c1691a"/>
<circle cx="393.0" cy="720.5" r="2.3" fill="#c1691a"/>
<circle cx="397.0" cy="720.0" r="2.3" fill="#c1691a"/>
<circle cx="401.0" cy="720.5" r="2.3" fill="#c1691a"/>
<circle cx="404.5" cy="721.0" r="2.3" fill="#c1691a"/>
<path d="M426.0 688.7L428.6 693.4L423.4 693.4Z" fill="#f2901c"/>
<path d="M430.0 698.0L432.6 702.7L427.4 702.7Z" fill="#f2901c"/>
<path d="M427.7 698.5L430.3 703.2L425.1 703.2Z" fill="#f2901c"/>
<path d="M423.0 700.9L425.6 705.6L420.4 705.6Z" fill="#f2901c"/>
<path d="M426.0 701.4L428.6 706.1L423.4 706.1Z" fill="#f2901c"/>
<path d="M419.6 704.9L422.2 709.6L417.0 709.6Z" fill="#f2901c"/>
<path d="M423.0 706.0L425.6 710.7L420.4 710.7Z" fill="#f2901c"/>
<path d="M426.0 708.4L428.6 713.1L423.4 713.1Z" fill="#f2901c"/>
<path d="M430.0 708.4L432.6 713.1L427.4 713.1Z" fill="#f2901c"/>
<path d="M433.5 707.2L436.1 711.9L430.9 711.9Z" fill="#f2901c"/>
<path d="M426.0 715.3L428.6 720.0L423.4 720.0Z" fill="#f2901c"/>
<path d="M423.0 710.1L425.6 714.8L420.4 714.8Z" fill="#f2901c"/>
<circle cx="457.2" cy="722.1" r="2.35" fill="#1b3e7a"/>
<circle cx="463.8" cy="721.2" r="2.35" fill="#1b3e7a"/>
<circle cx="470.8" cy="722.1" r="2.35" fill="#1b3e7a"/>
<circle cx="460.5" cy="722.5" r="2.35" fill="#1b3e7a"/>
<circle cx="467.3" cy="722.5" r="2.35" fill="#1b3e7a"/>
<path d="M486.0 719.1L488.2 723.1L483.8 723.1Z" fill="#2c9bd8"/>
<path d="M489.5 718.6L491.7 722.6L487.3 722.6Z" fill="#2c9bd8"/>
<path d="M493.0 718.1L495.2 722.1L490.8 722.1Z" fill="#2c9bd8"/>
<path d="M496.5 718.6L498.7 722.6L494.3 722.6Z" fill="#2c9bd8"/>
<path d="M499.3 719.1L501.5 723.1L497.1 723.1Z" fill="#2c9bd8"/>
<path d="M488.0 720.1L490.2 724.1L485.8 724.1Z" fill="#2c9bd8"/>
<path d="M492.0 720.1L494.2 724.1L489.8 724.1Z" fill="#2c9bd8"/>
<path d="M496.0 720.1L498.2 724.1L493.8 724.1Z" fill="#2c9bd8"/>
<text x="347.4" y="602.8" font-size="9.9" text-anchor="middle" fill="#1f1f1f" font-weight="normal" textLength="9.62" lengthAdjust="spacingAndGlyphs" stroke="#1f1f1f" stroke-width="0.22" >ns</text>
<polygon points="407.50,649.02 408.01,650.05 409.15,650.21 408.32,651.02 408.52,652.15 407.50,651.62 406.48,652.15 406.68,651.02 405.85,650.21 406.99,650.05" fill="#262626" stroke="#262626" stroke-width="0.5" stroke-linejoin="round"/>
<polygon points="411.60,649.02 412.11,650.05 413.25,650.21 412.42,651.02 412.62,652.15 411.60,651.62 410.58,652.15 410.78,651.02 409.95,650.21 411.09,650.05" fill="#262626" stroke="#262626" stroke-width="0.5" stroke-linejoin="round"/>
<polygon points="415.70,649.02 416.21,650.05 417.35,650.21 416.52,651.02 416.72,652.15 415.70,651.62 414.68,652.15 414.88,651.02 414.05,650.21 415.19,650.05" fill="#262626" stroke="#262626" stroke-width="0.5" stroke-linejoin="round"/>
<polygon points="419.80,649.02 420.31,650.05 421.45,650.21 420.62,651.02 420.82,652.15 419.80,651.62 418.78,652.15 418.98,651.02 418.15,650.21 419.29,650.05" fill="#262626" stroke="#262626" stroke-width="0.5" stroke-linejoin="round"/>
<text x="476.8" y="694.8" font-size="9.9" text-anchor="middle" fill="#1f1f1f" font-weight="normal" textLength="9.62" lengthAdjust="spacingAndGlyphs" stroke="#1f1f1f" stroke-width="0.22" >ns</text>
<text x="333.6" y="743.3" font-size="9.9" text-anchor="middle" fill="#1f1f1f" font-weight="normal" textLength="14.16" lengthAdjust="spacingAndGlyphs" stroke="#1f1f1f" stroke-width="0.22" >WT</text>
<text x="361.3" y="743.3" font-size="9.9" text-anchor="middle" fill="#1f1f1f" font-weight="normal" textLength="20.22" lengthAdjust="spacingAndGlyphs" stroke="#1f1f1f" stroke-width="0.22" ><tspan font-size="8.2">&#916;</tspan>IEC</text>
<text x="399" y="743.3" font-size="9.9" text-anchor="middle" fill="#1f1f1f" font-weight="normal" textLength="14.16" lengthAdjust="spacingAndGlyphs" stroke="#1f1f1f" stroke-width="0.22" >WT</text>
<text x="427.2" y="743.3" font-size="9.9" text-anchor="middle" fill="#1f1f1f" font-weight="normal" textLength="20.22" lengthAdjust="spacingAndGlyphs" stroke="#1f1f1f" stroke-width="0.22" ><tspan font-size="8.2">&#916;</tspan>IEC</text>
<text x="464" y="743.3" font-size="9.9" text-anchor="middle" fill="#1f1f1f" font-weight="normal" textLength="14.16" lengthAdjust="spacingAndGlyphs" stroke="#1f1f1f" stroke-width="0.22" >WT</text>
<text x="492" y="743.3" font-size="9.9" text-anchor="middle" fill="#1f1f1f" font-weight="normal" textLength="20.22" lengthAdjust="spacingAndGlyphs" stroke="#1f1f1f" stroke-width="0.22" ><tspan font-size="8.2">&#916;</tspan>IEC</text>
<text x="347.5" y="757" font-size="9.9" text-anchor="middle" fill="#1f1f1f" font-weight="normal" textLength="25.31" lengthAdjust="spacingAndGlyphs" stroke="#1f1f1f" stroke-width="0.22" >5 ppm</text>
<text x="413" y="757" font-size="9.9" text-anchor="middle" fill="#1f1f1f" font-weight="normal" textLength="30.38" lengthAdjust="spacingAndGlyphs" stroke="#1f1f1f" stroke-width="0.22" >50 ppm</text>
<text x="479" y="757" font-size="9.9" text-anchor="middle" fill="#1f1f1f" font-weight="normal" textLength="40.51" lengthAdjust="spacingAndGlyphs" stroke="#1f1f1f" stroke-width="0.22" >1000 ppm</text>
</g>
<rect x="0.5" y="0.5" width="519" height="765" fill="none" stroke="#444" stroke-width="1.2"/>
</svg>
</body></html>
